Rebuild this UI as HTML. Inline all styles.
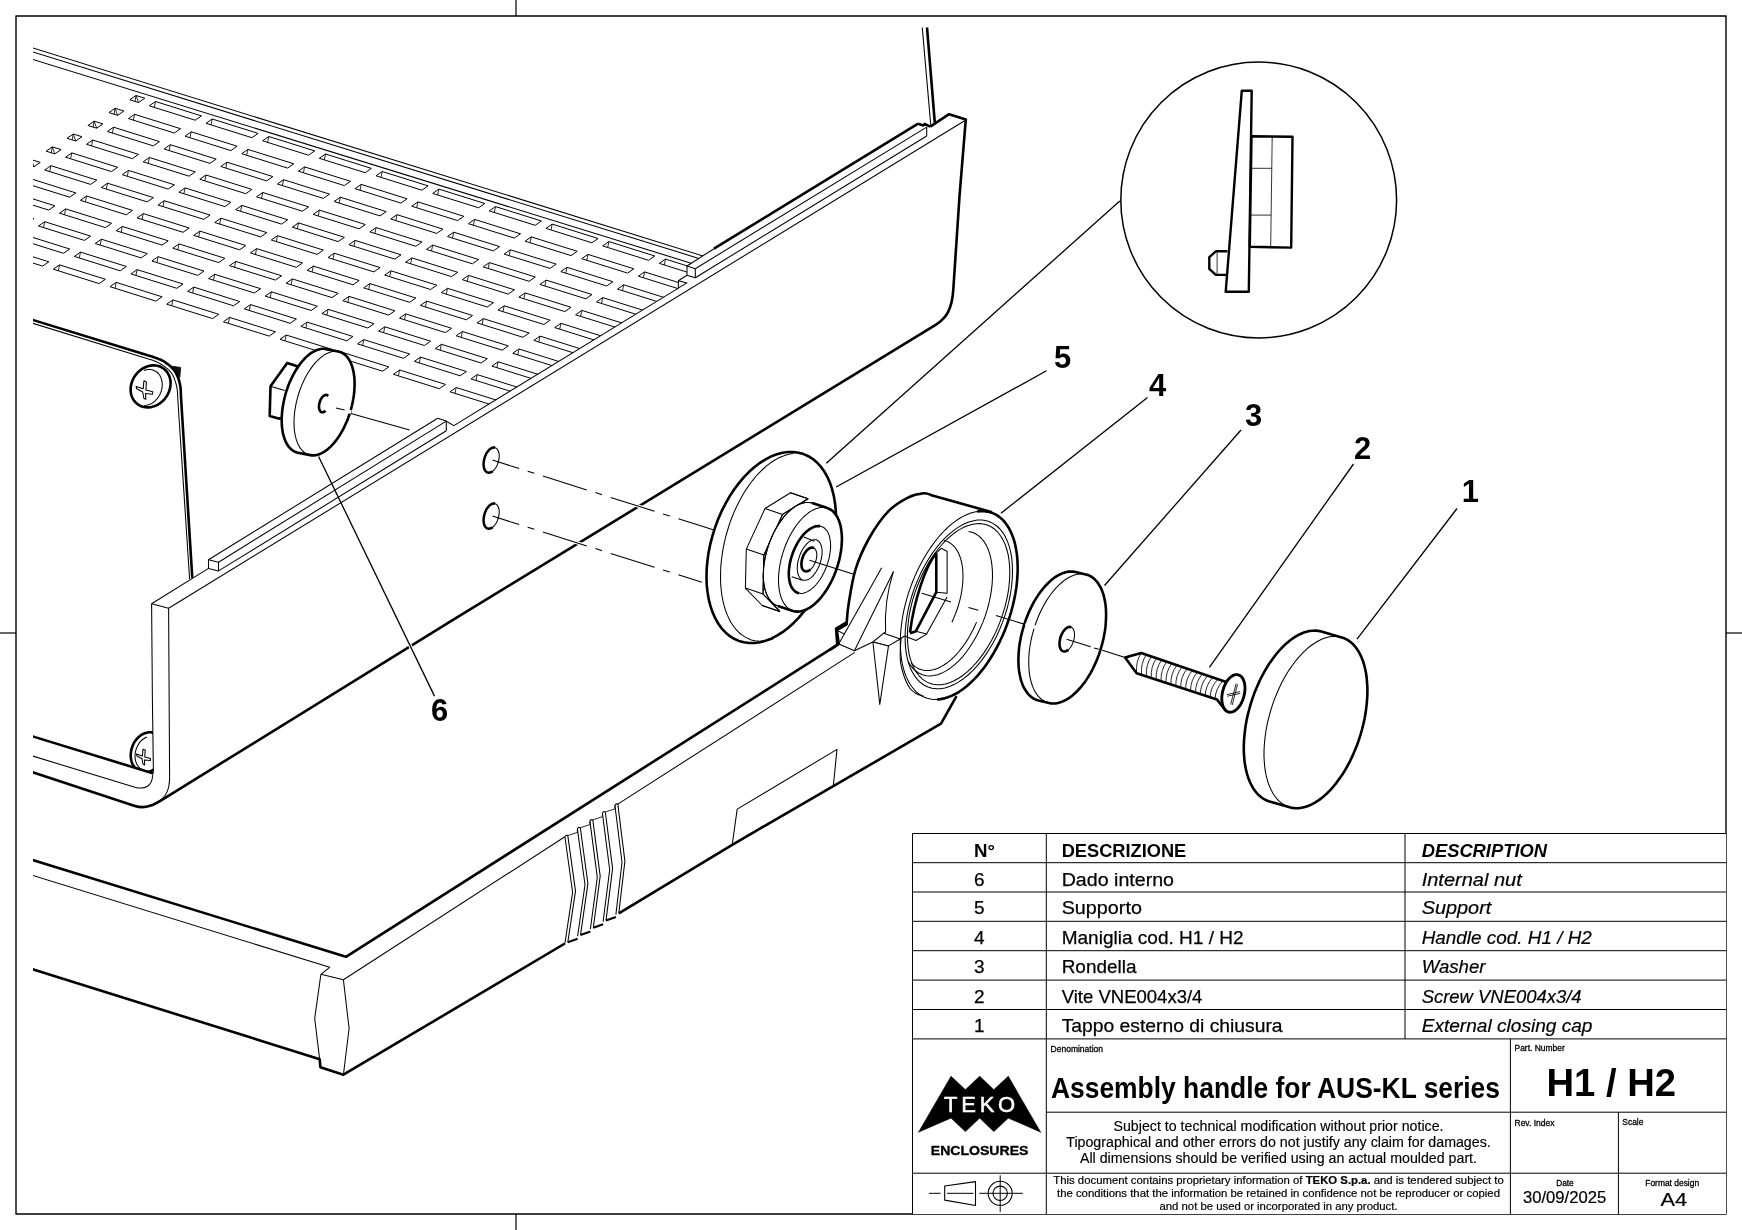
<!DOCTYPE html>
<html><head><meta charset="utf-8"><title>Assembly handle for AUS-KL series</title>
<style>
html,body{margin:0;padding:0;background:#fff;}
svg{display:block;font-family:"Liberation Sans",sans-serif;will-change:transform;filter:grayscale(1);}
</style></head><body>
<svg width="1742" height="1230" viewBox="0 0 1742 1230" fill="none" stroke="#000" stroke-linecap="butt" stroke-linejoin="round">
<rect x="0" y="0" width="1742" height="1230" fill="#fff" stroke="none"/>
<defs><clipPath id="dc"><rect x="33" y="27.5" width="1693" height="1186"/></clipPath></defs>
<g id="frame">
<rect x="16" y="16" width="1710" height="1198" stroke-width="1.4"/>
<polyline points="516,0 516,16" stroke-width="1.2" />
<polyline points="516,1214 516,1230" stroke-width="1.2" />
<polyline points="0,633 16,633" stroke-width="1.2" />
<polyline points="1726,633 1742,633" stroke-width="1.2" />
</g>
<g id="table">
<rect x="912.5" y="833.5" width="813.5" height="380.5" fill="#fff" stroke="none"/>
<polyline points="912.5,833.5 1726,833.5" stroke-width="1.0" />
<polyline points="912.5,862.7 1726,862.7" stroke-width="1.0" />
<polyline points="912.5,892 1726,892" stroke-width="1.0" />
<polyline points="912.5,921.3 1726,921.3" stroke-width="1.0" />
<polyline points="912.5,950.7 1726,950.7" stroke-width="1.0" />
<polyline points="912.5,980.1 1726,980.1" stroke-width="1.0" />
<polyline points="912.5,1009.5 1726,1009.5" stroke-width="1.0" />
<polyline points="912.5,1038.9 1726,1038.9" stroke-width="1.0" />
<polyline points="912.5,833.5 912.5,1214" stroke-width="1.0" />
<polyline points="1046.3,833.5 1046.3,1214" stroke-width="1.0" />
<polyline points="1405,833.5 1405,1038.9" stroke-width="1.0" />
<text x="974" y="857.2" font-size="19" font-weight="bold" font-style="normal" text-anchor="start" fill="#000" stroke="none" textLength="21" lengthAdjust="spacingAndGlyphs" >N°</text>
<text x="1061.7" y="857.2" font-size="19" font-weight="bold" font-style="normal" text-anchor="start" fill="#000" stroke="none" textLength="124.6" lengthAdjust="spacingAndGlyphs" >DESCRIZIONE</text>
<text x="1421.7" y="857.2" font-size="19" font-weight="bold" font-style="italic" text-anchor="start" fill="#000" stroke="none" textLength="125.3" lengthAdjust="spacingAndGlyphs" >DESCRIPTION</text>
<text x="979.2" y="885.6" font-size="19" font-weight="normal" font-style="normal" text-anchor="middle" fill="#000" stroke="#000" stroke-width="0.25" >6</text>
<text x="1061.7" y="885.6" font-size="19" font-weight="normal" font-style="normal" text-anchor="start" fill="#000" stroke="#000" stroke-width="0.25" textLength="112.3" lengthAdjust="spacingAndGlyphs" >Dado interno</text>
<text x="1421.7" y="885.6" font-size="19" font-weight="normal" font-style="italic" text-anchor="start" fill="#000" stroke="#000" stroke-width="0.2" textLength="100.1" lengthAdjust="spacingAndGlyphs" >Internal nut</text>
<text x="979.2" y="914.4" font-size="19" font-weight="normal" font-style="normal" text-anchor="middle" fill="#000" stroke="#000" stroke-width="0.25" >5</text>
<text x="1061.7" y="914.4" font-size="19" font-weight="normal" font-style="normal" text-anchor="start" fill="#000" stroke="#000" stroke-width="0.25" textLength="80.2" lengthAdjust="spacingAndGlyphs" >Supporto</text>
<text x="1421.7" y="914.4" font-size="19" font-weight="normal" font-style="italic" text-anchor="start" fill="#000" stroke="#000" stroke-width="0.2" textLength="69.6" lengthAdjust="spacingAndGlyphs" >Support</text>
<text x="979.2" y="943.7" font-size="19" font-weight="normal" font-style="normal" text-anchor="middle" fill="#000" stroke="#000" stroke-width="0.25" >4</text>
<text x="1061.7" y="943.7" font-size="19" font-weight="normal" font-style="normal" text-anchor="start" fill="#000" stroke="#000" stroke-width="0.25" textLength="181.9" lengthAdjust="spacingAndGlyphs" >Maniglia cod. H1 / H2</text>
<text x="1421.7" y="943.7" font-size="19" font-weight="normal" font-style="italic" text-anchor="start" fill="#000" stroke="#000" stroke-width="0.2" textLength="170.1" lengthAdjust="spacingAndGlyphs" >Handle cod. H1 / H2</text>
<text x="979.2" y="973" font-size="19" font-weight="normal" font-style="normal" text-anchor="middle" fill="#000" stroke="#000" stroke-width="0.25" >3</text>
<text x="1061.7" y="973" font-size="19" font-weight="normal" font-style="normal" text-anchor="start" fill="#000" stroke="#000" stroke-width="0.25" textLength="74.8" lengthAdjust="spacingAndGlyphs" >Rondella</text>
<text x="1421.7" y="973" font-size="19" font-weight="normal" font-style="italic" text-anchor="start" fill="#000" stroke="#000" stroke-width="0.2" textLength="63.8" lengthAdjust="spacingAndGlyphs" >Washer</text>
<text x="979.2" y="1002.5" font-size="19" font-weight="normal" font-style="normal" text-anchor="middle" fill="#000" stroke="#000" stroke-width="0.25" >2</text>
<text x="1061.7" y="1002.5" font-size="19" font-weight="normal" font-style="normal" text-anchor="start" fill="#000" stroke="#000" stroke-width="0.25" textLength="140.7" lengthAdjust="spacingAndGlyphs" >Vite VNE004x3/4</text>
<text x="1421.7" y="1002.5" font-size="19" font-weight="normal" font-style="italic" text-anchor="start" fill="#000" stroke="#000" stroke-width="0.2" textLength="159.9" lengthAdjust="spacingAndGlyphs" >Screw VNE004x3/4</text>
<text x="979.2" y="1031.6" font-size="19" font-weight="normal" font-style="normal" text-anchor="middle" fill="#000" stroke="#000" stroke-width="0.25" >1</text>
<text x="1061.7" y="1031.6" font-size="19" font-weight="normal" font-style="normal" text-anchor="start" fill="#000" stroke="#000" stroke-width="0.25" textLength="220.9" lengthAdjust="spacingAndGlyphs" >Tappo esterno di chiusura</text>
<text x="1421.7" y="1031.6" font-size="19" font-weight="normal" font-style="italic" text-anchor="start" fill="#000" stroke="#000" stroke-width="0.2" textLength="170.8" lengthAdjust="spacingAndGlyphs" >External closing cap</text>
<polyline points="1046.3,1112.2 1726,1112.2" stroke-width="1.0" />
<polyline points="912.5,1173.2 1726,1173.2" stroke-width="1.0" />
<polyline points="1510.4,1038.9 1510.4,1214" stroke-width="1.0" />
<polyline points="1618.4,1112.2 1618.4,1214" stroke-width="1.0" />
<text x="1050.6" y="1051.6" font-size="8.6" font-weight="normal" font-style="normal" text-anchor="start" fill="#000" stroke="#000" stroke-width="0.3" textLength="52.4" lengthAdjust="spacingAndGlyphs" >Denomination</text>
<text x="1051" y="1097.9" font-size="29.3" font-weight="bold" font-style="normal" text-anchor="start" fill="#000" stroke="none" textLength="449" lengthAdjust="spacingAndGlyphs" >Assembly handle for AUS-KL series</text>
<text x="1514.5" y="1051.4" font-size="8.6" font-weight="normal" font-style="normal" text-anchor="start" fill="#000" stroke="#000" stroke-width="0.3" textLength="50.2" lengthAdjust="spacingAndGlyphs" >Part. Number</text>
<text x="1546.5" y="1095.9" font-size="39.5" font-weight="bold" font-style="normal" text-anchor="start" fill="#000" stroke="none" textLength="129.6" lengthAdjust="spacingAndGlyphs" >H1 / H2</text>
<text x="1514.5" y="1126.4" font-size="8.6" font-weight="normal" font-style="normal" text-anchor="start" fill="#000" stroke="#000" stroke-width="0.3" textLength="40" lengthAdjust="spacingAndGlyphs" >Rev. Index</text>
<text x="1622.3" y="1125" font-size="8.6" font-weight="normal" font-style="normal" text-anchor="start" fill="#000" stroke="#000" stroke-width="0.3" textLength="21.1" lengthAdjust="spacingAndGlyphs" >Scale</text>
<text x="1564.9" y="1185.5" font-size="8.6" font-weight="normal" font-style="normal" text-anchor="middle" fill="#000" stroke="#000" stroke-width="0.3" textLength="17.4" lengthAdjust="spacingAndGlyphs" >Date</text>
<text x="1564.6" y="1203.4" font-size="15.8" font-weight="normal" font-style="normal" text-anchor="middle" fill="#000" stroke="#000" stroke-width="0.2" textLength="83.3" lengthAdjust="spacingAndGlyphs" >30/09/2025</text>
<text x="1672.2" y="1185.5" font-size="8.6" font-weight="normal" font-style="normal" text-anchor="middle" fill="#000" stroke="#000" stroke-width="0.3" textLength="53.8" lengthAdjust="spacingAndGlyphs" >Format design</text>
<text x="1673.7" y="1206.4" font-size="19" font-weight="normal" font-style="normal" text-anchor="middle" fill="#000" stroke="#000" stroke-width="0.2" textLength="26.6" lengthAdjust="spacingAndGlyphs" >A4</text>
<text x="1278.5" y="1130.7" font-size="13.8" font-weight="normal" font-style="normal" text-anchor="middle" fill="#000" stroke="#000" stroke-width="0.15" textLength="330" lengthAdjust="spacingAndGlyphs" >Subject to technical modification without prior notice.</text>
<text x="1278.5" y="1146.8" font-size="13.8" font-weight="normal" font-style="normal" text-anchor="middle" fill="#000" stroke="#000" stroke-width="0.15" textLength="424.5" lengthAdjust="spacingAndGlyphs" >Tipographical and other errors do not justify any claim for damages.</text>
<text x="1278.5" y="1162.8" font-size="13.8" font-weight="normal" font-style="normal" text-anchor="middle" fill="#000" stroke="#000" stroke-width="0.15" textLength="397" lengthAdjust="spacingAndGlyphs" >All dimensions should be verified using an actual moulded part.</text>
<text x="1278.5" y="1184.3" font-size="11.2" text-anchor="middle" fill="#000" stroke="#000" stroke-width="0.2" textLength="450.5" lengthAdjust="spacingAndGlyphs">This document contains proprietary information of <tspan font-weight="bold">TEKO S.p.a.</tspan> and is tendered subject to</text>
<text x="1278.5" y="1197.1" font-size="11.2" font-weight="normal" font-style="normal" text-anchor="middle" fill="#000" stroke="#000" stroke-width="0.2" textLength="443" lengthAdjust="spacingAndGlyphs" >the conditions that the information be retained in confidence not be reproducer or copied</text>
<text x="1278.5" y="1209.8" font-size="11.2" font-weight="normal" font-style="normal" text-anchor="middle" fill="#000" stroke="#000" stroke-width="0.2" textLength="238" lengthAdjust="spacingAndGlyphs" >and not be used or incorporated in any product.</text>
<polygon points="918.2,1132.5 951,1076.1 965.4,1089.6 979.7,1076.1 993.8,1089.6 1008.3,1076.1 1041,1132.5 1008.3,1118.2 993.8,1131.8 979.7,1118.2 965.4,1131.8 951,1118.2" stroke-width="0.3" fill="#000" />
<text x="944" y="1111.7" font-size="22" fill="#fff" stroke="#fff" stroke-width="0.5" textLength="71.2" lengthAdjust="spacing">TEKO</text>
<text x="979.6" y="1154.8" font-size="13.5" font-weight="bold" font-style="normal" text-anchor="middle" fill="#000" stroke="#000" stroke-width="0.35" textLength="97.6" lengthAdjust="spacingAndGlyphs" >ENCLOSURES</text>
<polyline points="928.9,1193.3 940.5,1193.3" stroke-width="1.0" />
<polyline points="947,1193.3 973.5,1193.3" stroke-width="1.0" />
<polyline points="979.3,1193.3 1022.8,1193.3" stroke-width="1.0" />
<polygon points="944.7,1186 975.5,1181.6 975.5,1205.5 944.7,1200.1" stroke-width="1.1" fill="none" />
<circle cx="1000.2" cy="1193.3" r="12" stroke-width="1.1"/><circle cx="1000.2" cy="1193.3" r="7.2" stroke-width="1.1"/>
<polyline points="1000.2,1175.3 1000.2,1211.8" stroke-width="1.0" />
</g>
<g id="drawing" clip-path="url(#dc)">
<polyline points="20,44 702.9,255.9" stroke-width="1.05" />
<polyline points="20,48 698.8,258.4" stroke-width="1.05" />
<polyline points="20,55.5 691.2,263.2" stroke-width="1.05" />
<polygon points="149.3,105.8 155.5,101.5 201.4,115.9 195.2,120.2" stroke-width="1.0" fill="none" />
<polyline points="155.5,101.5 154.3,107.4" stroke-width="0.85" />
<polygon points="206,123.3 212.2,119 258.1,133.4 251.9,137.7" stroke-width="1.0" fill="none" />
<polyline points="212.2,119 211,124.9" stroke-width="0.85" />
<polygon points="262.6,140.8 268.8,136.5 314.7,150.9 308.5,155.2" stroke-width="1.0" fill="none" />
<polyline points="268.8,136.5 267.6,142.4" stroke-width="0.85" />
<polygon points="319.3,158.3 325.5,154 371.4,168.4 365.2,172.7" stroke-width="1.0" fill="none" />
<polyline points="325.5,154 324.3,159.9" stroke-width="0.85" />
<polygon points="376,175.8 382.2,171.5 428.1,185.9 421.9,190.2" stroke-width="1.0" fill="none" />
<polyline points="382.2,171.5 381,177.4" stroke-width="0.85" />
<polygon points="432.7,193.4 438.9,189.1 484.8,203.5 478.6,207.8" stroke-width="1.0" fill="none" />
<polyline points="438.9,189.1 437.7,194.9" stroke-width="0.85" />
<polygon points="489.3,210.9 495.5,206.6 541.4,221 535.2,225.3" stroke-width="1.0" fill="none" />
<polyline points="495.5,206.6 494.3,212.4" stroke-width="0.85" />
<polygon points="546,228.4 552.2,224.1 598.1,238.5 591.9,242.8" stroke-width="1.0" fill="none" />
<polyline points="552.2,224.1 551,229.9" stroke-width="0.85" />
<polygon points="602.7,245.9 608.9,241.6 654.8,256 648.6,260.3" stroke-width="1.0" fill="none" />
<polyline points="608.9,241.6 607.7,247.4" stroke-width="0.85" />
<polygon points="659.3,263.4 665.5,259.1 711.4,273.5 705.2,277.8" stroke-width="1.0" fill="none" />
<polyline points="665.5,259.1 664.3,265" stroke-width="0.85" />
<polygon points="129.8,99.8 136,95.5 144.8,98.2 138.6,102.5" stroke-width="1.0" fill="none" />
<polyline points="136,95.5 135,101.4" stroke-width="0.85" />
<polyline points="136,95.5 138.6,102.5" stroke-width="0.85" />
<polygon points="128.4,118.6 134.6,114.3 180.5,128.7 174.3,133" stroke-width="1.0" fill="none" />
<polyline points="134.6,114.3 133.4,120.2" stroke-width="0.85" />
<polygon points="185,136.2 191.2,131.8 237.1,146.2 230.9,150.6" stroke-width="1.0" fill="none" />
<polyline points="191.2,131.8 190,137.7" stroke-width="0.85" />
<polygon points="241.7,153.7 247.9,149.4 293.8,163.8 287.6,168.1" stroke-width="1.0" fill="none" />
<polyline points="247.9,149.4 246.7,155.2" stroke-width="0.85" />
<polygon points="298.4,171.2 304.6,166.9 350.5,181.3 344.3,185.6" stroke-width="1.0" fill="none" />
<polyline points="304.6,166.9 303.4,172.7" stroke-width="0.85" />
<polygon points="355.1,188.7 361.2,184.4 407.1,198.8 400.9,203.1" stroke-width="1.0" fill="none" />
<polyline points="361.2,184.4 360.1,190.2" stroke-width="0.85" />
<polygon points="411.7,206.2 417.9,201.9 463.8,216.3 457.6,220.6" stroke-width="1.0" fill="none" />
<polyline points="417.9,201.9 416.7,207.8" stroke-width="0.85" />
<polygon points="468.4,223.7 474.6,219.4 520.5,233.8 514.3,238.1" stroke-width="1.0" fill="none" />
<polyline points="474.6,219.4 473.4,225.3" stroke-width="0.85" />
<polygon points="525.1,241.2 531.3,236.9 577.2,251.3 571,255.6" stroke-width="1.0" fill="none" />
<polyline points="531.3,236.9 530.1,242.8" stroke-width="0.85" />
<polygon points="581.7,258.7 587.9,254.4 633.8,268.8 627.6,273.1" stroke-width="1.0" fill="none" />
<polyline points="587.9,254.4 586.7,260.3" stroke-width="0.85" />
<polygon points="638.4,276.2 644.6,271.9 690.5,286.3 684.3,290.6" stroke-width="1.0" fill="none" />
<polyline points="644.6,271.9 643.4,277.8" stroke-width="0.85" />
<polygon points="108.9,112.6 115.1,108.3 123.9,111 117.7,115.3" stroke-width="1.0" fill="none" />
<polyline points="115.1,108.3 114.1,114.3" stroke-width="0.85" />
<polyline points="115.1,108.3 117.7,115.3" stroke-width="0.85" />
<polygon points="107.4,131.5 113.6,127.2 159.5,141.6 153.3,145.9" stroke-width="1.0" fill="none" />
<polyline points="113.6,127.2 112.4,133" stroke-width="0.85" />
<polygon points="164.1,149 170.3,144.7 216.2,159.1 210,163.4" stroke-width="1.0" fill="none" />
<polyline points="170.3,144.7 169.1,150.6" stroke-width="0.85" />
<polygon points="220.8,166.5 227,162.2 272.9,176.6 266.7,180.9" stroke-width="1.0" fill="none" />
<polyline points="227,162.2 225.8,168.1" stroke-width="0.85" />
<polygon points="277.4,184 283.6,179.7 329.5,194.1 323.3,198.4" stroke-width="1.0" fill="none" />
<polyline points="283.6,179.7 282.4,185.6" stroke-width="0.85" />
<polygon points="334.1,201.5 340.3,197.2 386.2,211.6 380,215.9" stroke-width="1.0" fill="none" />
<polyline points="340.3,197.2 339.1,203.1" stroke-width="0.85" />
<polygon points="390.8,219 397,214.7 442.9,229.1 436.7,233.4" stroke-width="1.0" fill="none" />
<polyline points="397,214.7 395.8,220.6" stroke-width="0.85" />
<polygon points="447.5,236.5 453.7,232.2 499.6,246.6 493.4,250.9" stroke-width="1.0" fill="none" />
<polyline points="453.7,232.2 452.5,238.1" stroke-width="0.85" />
<polygon points="504.1,254.1 510.3,249.8 556.2,264.1 550,268.4" stroke-width="1.0" fill="none" />
<polyline points="510.3,249.8 509.1,255.6" stroke-width="0.85" />
<polygon points="560.8,271.6 567,267.3 612.9,281.7 606.7,286" stroke-width="1.0" fill="none" />
<polyline points="567,267.3 565.8,273.1" stroke-width="0.85" />
<polygon points="617.5,289.1 623.7,284.8 669.6,299.2 663.4,303.5" stroke-width="1.0" fill="none" />
<polyline points="623.7,284.8 622.5,290.6" stroke-width="0.85" />
<polygon points="87.9,125.5 94.1,121.2 102.9,123.9 96.7,128.2" stroke-width="1.0" fill="none" />
<polyline points="94.1,121.2 93.1,127.1" stroke-width="0.85" />
<polyline points="94.1,121.2 96.7,128.2" stroke-width="0.85" />
<polygon points="86.5,144.3 92.7,140 138.6,154.4 132.4,158.7" stroke-width="1.0" fill="none" />
<polyline points="92.7,140 91.5,145.9" stroke-width="0.85" />
<polygon points="143.2,161.8 149.4,157.5 195.3,171.9 189.1,176.2" stroke-width="1.0" fill="none" />
<polyline points="149.4,157.5 148.2,163.4" stroke-width="0.85" />
<polygon points="199.8,179.3 206,175 251.9,189.4 245.8,193.7" stroke-width="1.0" fill="none" />
<polyline points="206,175 204.8,180.9" stroke-width="0.85" />
<polygon points="256.5,196.8 262.7,192.5 308.6,206.9 302.4,211.2" stroke-width="1.0" fill="none" />
<polyline points="262.7,192.5 261.5,198.4" stroke-width="0.85" />
<polygon points="313.2,214.4 319.4,210.1 365.3,224.5 359.1,228.8" stroke-width="1.0" fill="none" />
<polyline points="319.4,210.1 318.2,215.9" stroke-width="0.85" />
<polygon points="369.9,231.9 376.1,227.6 422,242 415.8,246.3" stroke-width="1.0" fill="none" />
<polyline points="376.1,227.6 374.9,233.4" stroke-width="0.85" />
<polygon points="426.5,249.4 432.7,245.1 478.6,259.5 472.4,263.8" stroke-width="1.0" fill="none" />
<polyline points="432.7,245.1 431.5,250.9" stroke-width="0.85" />
<polygon points="483.2,266.9 489.4,262.6 535.3,277 529.1,281.3" stroke-width="1.0" fill="none" />
<polyline points="489.4,262.6 488.2,268.5" stroke-width="0.85" />
<polygon points="539.9,284.4 546.1,280.1 592,294.5 585.8,298.8" stroke-width="1.0" fill="none" />
<polyline points="546.1,280.1 544.9,286" stroke-width="0.85" />
<polygon points="596.5,301.9 602.7,297.6 648.6,312 642.4,316.3" stroke-width="1.0" fill="none" />
<polyline points="602.7,297.6 601.5,303.5" stroke-width="0.85" />
<polygon points="67,138.3 73.2,134 82,136.7 75.8,141" stroke-width="1.0" fill="none" />
<polyline points="73.2,134 72.2,139.9" stroke-width="0.85" />
<polyline points="73.2,134 75.8,141" stroke-width="0.85" />
<polygon points="65.6,157.2 71.8,152.9 117.7,167.3 111.5,171.6" stroke-width="1.0" fill="none" />
<polyline points="71.8,152.9 70.6,158.7" stroke-width="0.85" />
<polygon points="122.3,174.7 128.5,170.4 174.4,184.8 168.2,189.1" stroke-width="1.0" fill="none" />
<polyline points="128.5,170.4 127.3,176.2" stroke-width="0.85" />
<polygon points="178.9,192.2 185.1,187.9 231,202.3 224.8,206.6" stroke-width="1.0" fill="none" />
<polyline points="185.1,187.9 183.9,193.7" stroke-width="0.85" />
<polygon points="235.6,209.7 241.8,205.4 287.7,219.8 281.5,224.1" stroke-width="1.0" fill="none" />
<polyline points="241.8,205.4 240.6,211.3" stroke-width="0.85" />
<polygon points="292.3,227.2 298.5,222.9 344.4,237.3 338.2,241.6" stroke-width="1.0" fill="none" />
<polyline points="298.5,222.9 297.3,228.8" stroke-width="0.85" />
<polygon points="348.9,244.7 355.1,240.4 401,254.8 394.8,259.1" stroke-width="1.0" fill="none" />
<polyline points="355.1,240.4 353.9,246.3" stroke-width="0.85" />
<polygon points="405.6,262.2 411.8,257.9 457.7,272.3 451.5,276.6" stroke-width="1.0" fill="none" />
<polyline points="411.8,257.9 410.6,263.8" stroke-width="0.85" />
<polygon points="462.3,279.7 468.5,275.4 514.4,289.8 508.2,294.1" stroke-width="1.0" fill="none" />
<polyline points="468.5,275.4 467.3,281.3" stroke-width="0.85" />
<polygon points="518.9,297.2 525.1,292.9 571,307.3 564.8,311.6" stroke-width="1.0" fill="none" />
<polyline points="525.1,292.9 523.9,298.8" stroke-width="0.85" />
<polygon points="575.6,314.8 581.8,310.4 627.7,324.8 621.5,329.1" stroke-width="1.0" fill="none" />
<polyline points="581.8,310.4 580.6,316.3" stroke-width="0.85" />
<polygon points="46.1,151.2 52.3,146.9 61.1,149.6 54.9,153.9" stroke-width="1.0" fill="none" />
<polyline points="52.3,146.9 51.3,152.8" stroke-width="0.85" />
<polyline points="52.3,146.9 54.9,153.9" stroke-width="0.85" />
<polygon points="44.7,170 50.9,165.7 96.8,180.1 90.6,184.4" stroke-width="1.0" fill="none" />
<polyline points="50.9,165.7 49.7,171.6" stroke-width="0.85" />
<polygon points="101.3,187.5 107.5,183.2 153.4,197.6 147.2,201.9" stroke-width="1.0" fill="none" />
<polyline points="107.5,183.2 106.3,189.1" stroke-width="0.85" />
<polygon points="158,205 164.2,200.7 210.1,215.1 203.9,219.4" stroke-width="1.0" fill="none" />
<polyline points="164.2,200.7 163,206.6" stroke-width="0.85" />
<polygon points="214.7,222.5 220.9,218.2 266.8,232.6 260.6,236.9" stroke-width="1.0" fill="none" />
<polyline points="220.9,218.2 219.7,224.1" stroke-width="0.85" />
<polygon points="271.3,240 277.5,235.7 323.4,250.1 317.2,254.4" stroke-width="1.0" fill="none" />
<polyline points="277.5,235.7 276.3,241.6" stroke-width="0.85" />
<polygon points="328,257.6 334.2,253.2 380.1,267.6 373.9,271.9" stroke-width="1.0" fill="none" />
<polyline points="334.2,253.2 333,259.1" stroke-width="0.85" />
<polygon points="384.7,275.1 390.9,270.8 436.8,285.2 430.6,289.5" stroke-width="1.0" fill="none" />
<polyline points="390.9,270.8 389.7,276.6" stroke-width="0.85" />
<polygon points="441.3,292.6 447.5,288.3 493.4,302.7 487.2,307" stroke-width="1.0" fill="none" />
<polyline points="447.5,288.3 446.3,294.1" stroke-width="0.85" />
<polygon points="498,310.1 504.2,305.8 550.1,320.2 543.9,324.5" stroke-width="1.0" fill="none" />
<polyline points="504.2,305.8 503,311.6" stroke-width="0.85" />
<polygon points="554.7,327.6 560.9,323.3 606.8,337.7 600.6,342" stroke-width="1.0" fill="none" />
<polyline points="560.9,323.3 559.7,329.2" stroke-width="0.85" />
<polygon points="25.2,164 31.4,159.7 40.2,162.4 34,166.7" stroke-width="1.0" fill="none" />
<polyline points="31.4,159.7 30.4,165.6" stroke-width="0.85" />
<polyline points="31.4,159.7 34,166.7" stroke-width="0.85" />
<polygon points="23.7,182.8 29.9,178.5 75.8,192.9 69.6,197.2" stroke-width="1.0" fill="none" />
<polyline points="29.9,178.5 28.7,184.4" stroke-width="0.85" />
<polygon points="80.4,200.3 86.6,196 132.5,210.4 126.3,214.8" stroke-width="1.0" fill="none" />
<polyline points="86.6,196 85.4,201.9" stroke-width="0.85" />
<polygon points="137.1,217.9 143.3,213.6 189.2,228 183,232.3" stroke-width="1.0" fill="none" />
<polyline points="143.3,213.6 142.1,219.4" stroke-width="0.85" />
<polygon points="193.7,235.4 199.9,231.1 245.8,245.5 239.6,249.8" stroke-width="1.0" fill="none" />
<polyline points="199.9,231.1 198.7,236.9" stroke-width="0.85" />
<polygon points="250.4,252.9 256.6,248.6 302.5,263 296.3,267.3" stroke-width="1.0" fill="none" />
<polyline points="256.6,248.6 255.4,254.4" stroke-width="0.85" />
<polygon points="307.1,270.4 313.3,266.1 359.2,280.5 353,284.8" stroke-width="1.0" fill="none" />
<polyline points="313.3,266.1 312.1,272" stroke-width="0.85" />
<polygon points="363.7,287.9 369.9,283.6 415.8,298 409.6,302.3" stroke-width="1.0" fill="none" />
<polyline points="369.9,283.6 368.7,289.5" stroke-width="0.85" />
<polygon points="420.4,305.4 426.6,301.1 472.5,315.5 466.3,319.8" stroke-width="1.0" fill="none" />
<polyline points="426.6,301.1 425.4,307" stroke-width="0.85" />
<polygon points="477.1,322.9 483.3,318.6 529.2,333 523,337.3" stroke-width="1.0" fill="none" />
<polyline points="483.3,318.6 482.1,324.5" stroke-width="0.85" />
<polygon points="533.8,340.4 540,336.1 585.9,350.5 579.6,354.8" stroke-width="1.0" fill="none" />
<polyline points="540,336.1 538.8,342" stroke-width="0.85" />
<polygon points="4.2,176.8 10.4,172.5 19.2,175.2 13,179.5" stroke-width="1.0" fill="none" />
<polyline points="10.4,172.5 9.4,178.5" stroke-width="0.85" />
<polyline points="10.4,172.5 13,179.5" stroke-width="0.85" />
<polygon points="2.8,195.7 9,191.4 54.9,205.8 48.7,210.1" stroke-width="1.0" fill="none" />
<polyline points="9,191.4 7.8,197.2" stroke-width="0.85" />
<polygon points="59.5,213.2 65.7,208.9 111.6,223.3 105.4,227.6" stroke-width="1.0" fill="none" />
<polyline points="65.7,208.9 64.5,214.8" stroke-width="0.85" />
<polygon points="116.1,230.7 122.3,226.4 168.2,240.8 162,245.1" stroke-width="1.0" fill="none" />
<polyline points="122.3,226.4 121.1,232.3" stroke-width="0.85" />
<polygon points="172.8,248.2 179,243.9 224.9,258.3 218.7,262.6" stroke-width="1.0" fill="none" />
<polyline points="179,243.9 177.8,249.8" stroke-width="0.85" />
<polygon points="229.5,265.7 235.7,261.4 281.6,275.8 275.4,280.1" stroke-width="1.0" fill="none" />
<polyline points="235.7,261.4 234.5,267.3" stroke-width="0.85" />
<polygon points="286.1,283.2 292.3,278.9 338.2,293.3 332,297.6" stroke-width="1.0" fill="none" />
<polyline points="292.3,278.9 291.1,284.8" stroke-width="0.85" />
<polygon points="342.8,300.7 349,296.4 394.9,310.8 388.7,315.1" stroke-width="1.0" fill="none" />
<polyline points="349,296.4 347.8,302.3" stroke-width="0.85" />
<polygon points="399.5,318.2 405.7,313.9 451.6,328.3 445.4,332.6" stroke-width="1.0" fill="none" />
<polyline points="405.7,313.9 404.5,319.8" stroke-width="0.85" />
<polygon points="456.2,335.8 462.4,331.5 508.3,345.9 502.1,350.2" stroke-width="1.0" fill="none" />
<polyline points="462.4,331.5 461.2,337.3" stroke-width="0.85" />
<polygon points="512.8,353.3 519,349 564.9,363.4 558.7,367.7" stroke-width="1.0" fill="none" />
<polyline points="519,349 517.8,354.8" stroke-width="0.85" />
<polygon points="-18.1,208.5 -11.9,204.2 34,218.6 27.8,222.9" stroke-width="1.0" fill="none" />
<polyline points="-11.9,204.2 -13.1,210.1" stroke-width="0.85" />
<polygon points="38.5,226 44.7,221.7 90.6,236.1 84.4,240.4" stroke-width="1.0" fill="none" />
<polyline points="44.7,221.7 43.5,227.6" stroke-width="0.85" />
<polygon points="95.2,243.5 101.4,239.2 147.3,253.6 141.1,257.9" stroke-width="1.0" fill="none" />
<polyline points="101.4,239.2 100.2,245.1" stroke-width="0.85" />
<polygon points="151.9,261 158.1,256.7 204,271.1 197.8,275.4" stroke-width="1.0" fill="none" />
<polyline points="158.1,256.7 156.9,262.6" stroke-width="0.85" />
<polygon points="208.5,278.6 214.7,274.3 260.6,288.7 254.4,293" stroke-width="1.0" fill="none" />
<polyline points="214.7,274.3 213.5,280.1" stroke-width="0.85" />
<polygon points="265.2,296.1 271.4,291.8 317.3,306.2 311.1,310.5" stroke-width="1.0" fill="none" />
<polyline points="271.4,291.8 270.2,297.6" stroke-width="0.85" />
<polygon points="321.9,313.6 328.1,309.3 374,323.7 367.8,328" stroke-width="1.0" fill="none" />
<polyline points="328.1,309.3 326.9,315.1" stroke-width="0.85" />
<polygon points="378.6,331.1 384.8,326.8 430.6,341.2 424.4,345.5" stroke-width="1.0" fill="none" />
<polyline points="384.8,326.8 383.6,332.7" stroke-width="0.85" />
<polygon points="435.2,348.6 441.4,344.3 487.3,358.7 481.1,363" stroke-width="1.0" fill="none" />
<polyline points="441.4,344.3 440.2,350.2" stroke-width="0.85" />
<polygon points="491.9,366.1 498.1,361.8 544,376.2 537.8,380.5" stroke-width="1.0" fill="none" />
<polyline points="498.1,361.8 496.9,367.7" stroke-width="0.85" />
<polygon points="-39.1,221.4 -32.9,217.1 13,231.5 6.8,235.8" stroke-width="1.0" fill="none" />
<polyline points="-32.9,217.1 -34.1,222.9" stroke-width="0.85" />
<polygon points="17.6,238.9 23.8,234.6 69.7,249 63.5,253.3" stroke-width="1.0" fill="none" />
<polyline points="23.8,234.6 22.6,240.4" stroke-width="0.85" />
<polygon points="74.3,256.4 80.5,252.1 126.4,266.5 120.2,270.8" stroke-width="1.0" fill="none" />
<polyline points="80.5,252.1 79.3,257.9" stroke-width="0.85" />
<polygon points="130.9,273.9 137.1,269.6 183,284 176.8,288.3" stroke-width="1.0" fill="none" />
<polyline points="137.1,269.6 135.9,275.5" stroke-width="0.85" />
<polygon points="187.6,291.4 193.8,287.1 239.7,301.5 233.5,305.8" stroke-width="1.0" fill="none" />
<polyline points="193.8,287.1 192.6,293" stroke-width="0.85" />
<polygon points="244.3,308.9 250.5,304.6 296.4,319 290.2,323.3" stroke-width="1.0" fill="none" />
<polyline points="250.5,304.6 249.3,310.5" stroke-width="0.85" />
<polygon points="300.9,326.4 307.1,322.1 353,336.5 346.8,340.8" stroke-width="1.0" fill="none" />
<polyline points="307.1,322.1 305.9,328" stroke-width="0.85" />
<polygon points="357.6,343.9 363.8,339.6 409.7,354 403.5,358.3" stroke-width="1.0" fill="none" />
<polyline points="363.8,339.6 362.6,345.5" stroke-width="0.85" />
<polygon points="414.3,361.4 420.5,357.1 466.4,371.5 460.2,375.8" stroke-width="1.0" fill="none" />
<polyline points="420.5,357.1 419.3,363" stroke-width="0.85" />
<polygon points="471,378.9 477.2,374.6 523.1,389 516.9,393.3" stroke-width="1.0" fill="none" />
<polyline points="477.2,374.6 476,380.5" stroke-width="0.85" />
<polygon points="-60,234.2 -53.8,229.9 -7.9,244.3 -14.1,248.6" stroke-width="1.0" fill="none" />
<polyline points="-53.8,229.9 -55,235.8" stroke-width="0.85" />
<polygon points="-3.3,251.7 2.9,247.4 48.8,261.8 42.6,266.1" stroke-width="1.0" fill="none" />
<polyline points="2.9,247.4 1.7,253.3" stroke-width="0.85" />
<polygon points="53.3,269.2 59.5,264.9 105.4,279.3 99.2,283.6" stroke-width="1.0" fill="none" />
<polyline points="59.5,264.9 58.3,270.8" stroke-width="0.85" />
<polygon points="110,286.7 116.2,282.4 162.1,296.8 155.9,301.1" stroke-width="1.0" fill="none" />
<polyline points="116.2,282.4 115,288.3" stroke-width="0.85" />
<polygon points="166.7,304.2 172.9,299.9 218.8,314.3 212.6,318.6" stroke-width="1.0" fill="none" />
<polyline points="172.9,299.9 171.7,305.8" stroke-width="0.85" />
<polygon points="223.4,321.8 229.6,317.4 275.4,331.8 269.2,336.1" stroke-width="1.0" fill="none" />
<polyline points="229.6,317.4 228.4,323.3" stroke-width="0.85" />
<polygon points="280,339.3 286.2,335 332.1,349.4 325.9,353.7" stroke-width="1.0" fill="none" />
<polyline points="286.2,335 285,340.8" stroke-width="0.85" />
<polygon points="336.7,356.8 342.9,352.5 388.8,366.9 382.6,371.2" stroke-width="1.0" fill="none" />
<polyline points="342.9,352.5 341.7,358.3" stroke-width="0.85" />
<polygon points="393.4,374.3 399.6,370 445.5,384.4 439.3,388.7" stroke-width="1.0" fill="none" />
<polyline points="399.6,370 398.4,375.8" stroke-width="0.85" />
<polygon points="450,391.8 456.2,387.5 502.1,401.9 495.9,406.2" stroke-width="1.0" fill="none" />
<polyline points="456.2,387.5 455,393.4" stroke-width="0.85" />
<polygon points="170.6,383.2 170.5,385.1 170.3,386.9 169.9,388.7 169.4,390.5 168.7,392.3 167.9,394.1 167,395.7 165.9,397.3 164.7,398.9 163.5,400.3 162.1,401.6 160.6,402.8 159.1,403.9 157.4,404.8 155.8,405.6 154.1,406.3 152.3,406.8 150.6,407.2 148.9,407.4 147.1,407.4 145.4,407.3 143.8,407 142.1,406.5 140.6,406 139.1,405.2 137.7,404.3 136.5,403.3 135.3,402.2 134.2,400.9 133.3,399.5 132.5,398 131.8,396.5 131.3,394.8 130.9,393.1 130.7,391.3 130.6,389.5 130.7,387.7 130.9,385.9 131.3,384.1 131.8,382.3 132.5,380.5 133.3,378.7 134.2,377.1 135.3,375.5 136.5,373.9 137.7,372.5 139.1,371.2 140.6,370 142.1,368.9 143.8,368 145.4,367.2 147.1,366.5 148.9,366 150.6,365.6 152.3,365.4 154.1,365.4 155.8,365.5 157.4,365.8 159.1,366.3 160.6,366.8 162.1,367.6 163.5,368.5 164.7,369.5 165.9,370.6 167,371.9 167.9,373.3 168.7,374.8 169.4,376.3 169.9,378 170.3,379.7 170.5,381.5" stroke-width="2.6" fill="#fff" />
<polyline points="144.1,370.5 146.3,369.8 148.6,369.5 150.8,369.6 152.9,370 154.9,370.9 156.8,372 158.4,373.5 159.8,375.3 160.8,377.4 161.6,379.6 162.1,382.1 162.3,384.6 162.1,387.2 161.6,389.8 160.8,392.4 159.8,394.8 158.4,397.1 156.8,399.2 154.9,401.1 152.9,402.7 150.8,403.9 148.6,404.8 146.3,405.3 144.1,405.5" stroke-width="1.05" />
<polygon points="143.9,380.8 146.4,381.9 145.9,390.1 152.8,391.7 152.5,394.3 145.5,393.4 145.9,399.3 143.9,398.4 142.7,392 136.8,388.8 136.1,386.5 143.2,388.8" stroke-width="1.05" fill="none" />
<polygon points="20,316 146,354.8 146.7,355 147.6,355.3 148.7,355.6 150,355.9 151.3,356.3 152.6,356.7 153.9,357.2 155.1,357.6 156.2,358 157.4,358.4 158.5,358.9 159.7,359.3 160.8,359.8 162,360.4 163.1,361 164.3,361.7 165.5,362.5 166.7,363.4 168,364.3 169.2,365.3 170.4,366.4 171.5,367.4 172.6,368.5 173.5,369.5 174.3,370.5 175,371.5 175.7,372.5 176.2,373.6 176.7,374.6 177.2,375.6 177.7,376.7 178.1,377.8 178.5,378.9 178.9,380 179.2,381.1 179.5,382.3 179.8,383.5 180,384.6 180.2,385.8 180.4,387 180.6,388.3 180.7,389.7 180.8,391.1 180.8,392.6 180.9,393.9 180.9,395.2 181,396.2 181,397 192.3,578 189.6,579 177.8,399 177.8,398.3 177.7,397.3 177.7,396.1 177.6,394.9 177.5,393.5 177.5,392.2 177.3,390.9 177.2,389.7 177,388.6 176.9,387.6 176.7,386.5 176.4,385.5 176.2,384.5 175.9,383.4 175.6,382.4 175.3,381.4 174.9,380.4 174.6,379.3 174.2,378.3 173.8,377.2 173.3,376.2 172.8,375.2 172.2,374.2 171.6,373.2 170.9,372.3 170.1,371.3 169.2,370.4 168.3,369.6 167.3,368.7 166.3,367.9 165.3,367.1 164.3,366.3 163.2,365.6 162.1,364.8 161,364.2 159.8,363.5 158.6,362.9 157.4,362.3 156.3,361.7 155.1,361.2 153.9,360.7 152.6,360.2 151.3,359.8 150,359.4 148.7,359 147.6,358.7 146.7,358.4 146,358.2 20,319.4" stroke-width="0.01" fill="#fff" stroke="none"/>
<polyline points="20,316 146,354.8 146.7,355 147.6,355.3 148.7,355.6 150,355.9 151.3,356.3 152.6,356.7 153.9,357.2 155.1,357.6 156.2,358 157.4,358.4 158.5,358.9 159.7,359.3 160.8,359.8 162,360.4 163.1,361 164.3,361.7 165.5,362.5 166.7,363.4 168,364.3 169.2,365.3 170.4,366.4 171.5,367.4 172.6,368.5 173.5,369.5 174.3,370.5 175,371.5 175.7,372.5 176.2,373.6 176.7,374.6 177.2,375.6 177.7,376.7 178.1,377.8 178.5,378.9 178.9,380 179.2,381.1 179.5,382.3 179.8,383.5 180,384.6 180.2,385.8 180.4,387 180.6,388.3 180.7,389.7 180.8,391.1 180.8,392.6 180.9,393.9 180.9,395.2 181,396.2 181,397 192.3,578" stroke-width="2.6" />
<polyline points="20,319.4 146,358.2 146.7,358.4 147.6,358.7 148.7,359 150,359.4 151.3,359.8 152.6,360.2 153.9,360.7 155.1,361.2 156.3,361.7 157.4,362.3 158.6,362.9 159.8,363.5 161,364.2 162.1,364.8 163.2,365.6 164.3,366.3 165.3,367.1 166.3,367.9 167.3,368.7 168.3,369.6 169.2,370.4 170.1,371.3 170.9,372.3 171.6,373.2 172.2,374.2 172.8,375.2 173.3,376.2 173.8,377.2 174.2,378.3 174.6,379.3 174.9,380.4 175.3,381.4 175.6,382.4 175.9,383.4 176.2,384.5 176.4,385.5 176.7,386.5 176.9,387.6 177,388.6 177.2,389.7 177.3,390.9 177.5,392.2 177.5,393.5 177.6,394.9 177.7,396.1 177.7,397.3 177.8,398.3 177.8,399 189.6,579" stroke-width="1.05" />
<polygon points="170.5,366 180.7,367.5 179.8,377.5 176,371" stroke-width="0.8" fill="#111" />
<polygon points="164.1,749.3 164,751 163.8,752.8 163.5,754.5 163.1,756.2 162.5,757.9 161.9,759.6 161.1,761.2 160.2,762.7 159.2,764.2 158.1,765.5 157,766.8 155.8,767.9 154.5,769 153.1,769.9 151.7,770.6 150.3,771.3 148.9,771.7 147.4,772.1 145.9,772.3 144.5,772.3 143.1,772.2 141.7,771.9 140.3,771.5 139.1,770.9 137.8,770.2 136.7,769.4 135.6,768.4 134.6,767.3 133.7,766.1 132.9,764.8 132.3,763.4 131.7,761.9 131.3,760.3 131,758.7 130.8,757 130.7,755.3 130.8,753.6 131,751.8 131.3,750.1 131.7,748.4 132.3,746.7 132.9,745 133.7,743.4 134.6,741.9 135.6,740.4 136.7,739.1 137.8,737.8 139.1,736.7 140.3,735.6 141.7,734.7 143.1,734 144.5,733.3 145.9,732.9 147.4,732.5 148.9,732.3 150.3,732.3 151.7,732.4 153.1,732.7 154.5,733.1 155.8,733.7 157,734.4 158.1,735.2 159.2,736.2 160.2,737.3 161.1,738.5 161.9,739.8 162.5,741.2 163.1,742.7 163.5,744.3 163.8,745.9 164,747.6" stroke-width="2.6" fill="#fff" />
<polyline points="147,771 145.3,770.8 143.8,770.4 142.2,769.8 140.8,769 139.5,767.9 138.4,766.7 137.4,765.2 136.5,763.6 135.9,761.9 135.4,760.1 135.1,758.1 135,756.2 135.1,754.1 135.4,752.1 135.9,750.1 136.5,748.1 137.4,746.2 138.4,744.4 139.5,742.7 140.8,741.2 142.2,739.8 143.8,738.7 145.3,737.7 147,736.9" stroke-width="1.05" />
<polygon points="143,749.2 145.2,750.1 144.7,757.1 150.6,758.4 150.3,760.6 144.4,759.9 144.7,764.9 143,764.1 142,758.7 137,756 136.4,754 142.4,756" stroke-width="1.05" fill="none" />
<path d="M151.6,603.7 L208.5,568.4 L208.5,559.7 L437.7,418.2 L446.3,421.1 L453.9,425.6 L678.4,288.1 L678.4,280.8 L687,275.3 L687,266 L714,248.7 L918.1,123.7 L923.3,125.4 L924.7,124 L930.2,126.6 L949.1,114.2 L965.8,119.4 L959.6,194.8 L953.3,289.7 C952,310 946,318 936,324.6 L455,618.7 L166,797.3 C154,805 146,809.5 134.9,806 L20,768 L20,732.5 L153.6,773.5 L152.6,700 Z" stroke-width="0.01" fill="#fff" stroke="none"/>
<path d="M930.2,126.6 L949.1,114.2 L965.8,119.4 L959.6,194.8 L953.3,289.7 C952,310 946,318 936,324.6 L455,618.7 L166,797.3 C154,805 146,809.5 134.9,806 L20,768" stroke-width="2.6" fill="none" />
<polyline points="168.6,608.2 964.6,120.8" stroke-width="1.05" />
<polyline points="151.6,603.7 168.6,608.2" stroke-width="1.05" />
<path d="M151.6,603.7 L152.4,700 L153.4,772" stroke-width="1.05" fill="none" />
<path d="M168.6,608.2 L169.6,776 C169.8,790 166,797 158,802" stroke-width="1.05" fill="none" />
<polyline points="20,732.5 153.6,773.5" stroke-width="2.6" />
<path d="M20,752.2 L134.9,787.2 C145,790 152.4,786 152.6,775" stroke-width="1.05" fill="none" />
<polyline points="151.6,603.7 208.5,568.4" stroke-width="1.05" />
<polyline points="208.5,559.7 437.7,418.2" stroke-width="1.05" />
<polyline points="218.5,562.2 446.3,421.1" stroke-width="1.05" />
<polyline points="218.5,570.9 446.3,430.8" stroke-width="1.05" />
<polygon points="208.5,559.7 218.5,562.2 218.5,570.9 208.5,568.4" stroke-width="1.05" fill="none" />
<polyline points="437.7,418.2 446.3,421.1 446.3,430.8" stroke-width="1.05" />
<polyline points="446.3,421.3 453.9,425.6 678.4,288.1 678.4,280.8 687,275.3" stroke-width="1.05" />
<polyline points="678.4,280.8 687,282.9 677.7,288.4" stroke-width="1.05" />
<polyline points="687,266 714,248.7" stroke-width="1.05" />
<polyline points="714,248.7 918.1,123.7" stroke-width="2.6" />
<polyline points="918.1,123.7 923.3,125.4 924.7,124 930.2,126.6" stroke-width="2.6" />
<polyline points="695.3,268.7 926.7,127.1" stroke-width="1.05" />
<polyline points="695.3,277.7 926.7,136" stroke-width="1.05" />
<polyline points="926.7,127.1 926.7,136" stroke-width="1.05" />
<polygon points="687,266 695.3,268.7 695.3,277.7 687,275.3" stroke-width="1.05" fill="none" />
<polyline points="921.6,20 930.8,125.4" stroke-width="1.05" />
<polyline points="926.4,20 934.8,122.6" stroke-width="2.6" />
<polyline points="492.8,471.2 491.8,471.8 490.8,472.3 489.8,472.6 488.8,472.7 487.9,472.6 487,472.3 486.2,471.7 485.5,471 484.9,470.1 484.4,469.1 484,467.9 483.8,466.5 483.6,465.1 483.6,463.6 483.7,462 484,460.4 484.3,458.8 484.8,457.2 485.4,455.7 486,454.2 486.8,452.8 487.7,451.6 488.6,450.5 489.5,449.5 490.5,448.7 491.5,448.1 492.5,447.7 493.5,447.5 494.4,447.5 495.3,447.7" stroke-width="2.4699999999999998" />
<polyline points="495.3,447.7 496.1,448.1 496.8,448.7 497.5,449.5 498,450.4 498.5,451.4 498.8,452.6 499.1,453.9 499.2,455.2 499.2,456.7 499.1,458.2 498.9,459.7 498.5,461.3 498.1,462.8 497.5,464.3 496.9,465.7 496.2,467 495.4,468.3 494.6,469.4 493.7,470.3 492.8,471.2" stroke-width="1.05" />
<polyline points="492.8,527.2 491.8,527.8 490.8,528.3 489.8,528.6 488.8,528.7 487.9,528.6 487,528.3 486.2,527.7 485.5,527 484.9,526.1 484.4,525.1 484,523.9 483.8,522.5 483.6,521.1 483.6,519.6 483.7,518 484,516.4 484.3,514.8 484.8,513.2 485.4,511.7 486,510.2 486.8,508.8 487.7,507.6 488.6,506.5 489.5,505.5 490.5,504.7 491.5,504.1 492.5,503.7 493.5,503.5 494.4,503.5 495.3,503.7" stroke-width="2.4699999999999998" />
<polyline points="495.3,503.7 496.1,504.1 496.8,504.7 497.5,505.5 498,506.4 498.5,507.4 498.8,508.6 499.1,509.9 499.2,511.2 499.2,512.7 499.1,514.2 498.9,515.7 498.5,517.3 498.1,518.8 497.5,520.3 496.9,521.7 496.2,523 495.4,524.3 494.6,525.4 493.7,526.3 492.8,527.2" stroke-width="1.05" />
<g id="base">
<polyline points="20,856 345.9,956.8 837.3,644.9 836.1,628.7 846.6,622.4" stroke-width="2.6" />
<polyline points="20,871.4 329.6,967.3 320.9,974.3" stroke-width="1.05" />
<polyline points="320.9,974.3 343.4,979.8" stroke-width="1.05" />
<polyline points="343.4,979.8 564.9,836.8" stroke-width="1.05" />
<polyline points="617.8,804.1 854.8,652.4" stroke-width="1.05" />
<polyline points="564.9,943.5 572.6,892.3 564.9,836.8 566.1,835.2 567.8,835.6 575.5,891.1 567.8,942.3" stroke-width="1.05" />
<polyline points="567.8,835.6 577.4,832.4 577.4,828.9" stroke-width="0.8400000000000001" />
<polyline points="567.8,942.3 577.6,938.8" stroke-width="2.08" />
<polyline points="577.6,936.3 585,884.8 577.4,828.9 578.6,827.3 580.3,827.7 587.9,883.6 580.5,935.1" stroke-width="1.05" />
<polyline points="580.3,827.7 589.9,824.6 589.9,821.1" stroke-width="0.8400000000000001" />
<polyline points="580.5,935.1 590.4,931.5" stroke-width="2.08" />
<polyline points="590.4,929 597.3,877.3 589.9,821.1 591.1,819.5 592.8,819.9 600.2,876.1 593.3,927.8" stroke-width="1.05" />
<polyline points="592.8,819.9 602.4,816.7 602.4,813.2" stroke-width="0.8400000000000001" />
<polyline points="593.3,927.8 603.1,924.3" stroke-width="2.08" />
<polyline points="603.1,921.8 609.7,869.8 602.4,813.2 603.6,811.6 605.3,812 612.6,868.6 606,920.6" stroke-width="1.05" />
<polyline points="605.3,812 614.9,808.8 614.9,805.3" stroke-width="0.8400000000000001" />
<polyline points="606,920.6 615.9,917" stroke-width="2.08" />
<polyline points="615.9,914.5 622,862.3 614.9,805.3 616.1,803.7 617.8,804.1 624.9,861.1 618.8,913.3" stroke-width="1.05" />
<polyline points="320.9,974.3 314.7,1018.5 319.7,1059.7 320.4,1067.2" stroke-width="1.05" />
<polyline points="343.4,979.8 349.1,1028.5 343.4,1074.7" stroke-width="1.05" />
<polyline points="20,965.2 319.7,1059.2 320.4,1067.2 343.4,1074.7 564.9,943.5" stroke-width="2.6" />
<polyline points="618.8,913.3 732.2,844.8 833.3,786.2 941,723.6 956.5,696.1" stroke-width="2.6" />
<polyline points="732.2,844.8 737.2,809.1 837,749.4 833.3,786.2" stroke-width="1.05" />
</g>
<g id="nut6">
<polygon points="297.2,366.2 287.2,362.9 270.5,386.2 269.7,416.1 278.5,418.6 290,417 300,400" stroke-width="2.6" fill="#fff" />
<polyline points="270.5,386.2 284.7,390.4" stroke-width="1.05" />
<polygon points="338.3,351.5 339.9,351.9 341.5,352.5 343.1,353.4 344.5,354.4 345.9,355.6 347.2,357 348.4,358.6 349.5,360.4 350.5,362.3 351.4,364.4 352.2,366.7 352.9,369.1 353.5,371.6 353.9,374.3 354.3,377.1 354.5,380 354.6,382.9 354.6,386 354.4,389.1 354.2,392.3 353.8,395.5 353.3,398.7 352.7,402 352,405.3 351.2,408.5 350.3,411.8 349.2,415 348.1,418.2 346.9,421.3 345.5,424.3 344.1,427.3 342.7,430.1 341.1,432.9 339.5,435.5 337.8,438 336.1,440.4 334.3,442.6 332.5,444.7 330.7,446.6 328.8,448.3 326.9,449.9 325,451.3 323.1,452.4 321.2,453.4 319.3,454.2 317.4,454.8 315.6,455.2 313.8,455.4 312,455.4 310.3,455.1 298,452.7 296.4,452.3 294.8,451.7 293.2,450.8 291.8,449.8 290.4,448.6 289.1,447.2 287.9,445.6 286.8,443.8 285.8,441.9 284.9,439.8 284.1,437.5 283.4,435.1 282.8,432.6 282.4,429.9 282,427.1 281.8,424.2 281.7,421.3 281.7,418.2 281.9,415.1 282.1,411.9 282.5,408.7 283,405.5 283.6,402.2 284.3,398.9 285.1,395.7 286,392.4 287.1,389.2 288.2,386 289.4,382.9 290.8,379.9 292.2,376.9 293.6,374.1 295.2,371.3 296.8,368.7 298.5,366.2 300.2,363.8 302,361.6 303.8,359.5 305.6,357.6 307.5,355.9 309.4,354.3 311.3,352.9 313.2,351.8 315.1,350.8 317,350 318.9,349.4 320.7,349 322.5,348.8 324.3,348.8 326,349.1" stroke-width="2.6" fill="#fff" />
<polyline points="310.3,455.1 308.3,454.6 306.3,453.7 304.4,452.5 302.7,451 301.1,449.2 299.6,447.1 298.3,444.8 297.2,442.2 296.2,439.3 295.4,436.2 294.8,433 294.3,429.5 294.1,425.9 294,422.2 294.1,418.3 294.4,414.3 294.9,410.3 295.6,406.2 296.4,402.1 297.4,398.1 298.6,394 299.9,390 301.4,386.1 303.1,382.3 304.8,378.6 306.7,375.1 308.7,371.7 310.8,368.6 312.9,365.6 315.2,362.9 317.5,360.5 319.8,358.3 322.2,356.4 324.5,354.7 326.9,353.4 329.3,352.4 331.6,351.7 333.9,351.3 336.1,351.2 338.3,351.5" stroke-width="1.05" />
<polyline points="325.5,410.7 324.6,411.5 323.7,412 322.8,412.3 321.9,412.3 321.1,412 320.4,411.4 319.9,410.6 319.4,409.6 319.1,408.4 319,407 319,405.6 319.2,404 319.6,402.5 320.1,401 320.7,399.5 321.5,398.2 322.3,397.1 323.2,396.2 324.1,395.5 325,395.1 325.9,394.9 326.8,395 327.5,395.4 328.2,396" stroke-width="2.6" />
</g>
<g id="sup5">
<polygon points="836,518.5 835.8,526.5 835,534.7 833.8,543.1 832.1,551.4 829.9,559.7 827.3,567.9 824.3,576 820.9,583.8 817,591.4 812.9,598.6 808.4,605.5 803.6,611.9 798.6,617.8 793.4,623.2 788,628 782.5,632.2 776.9,635.7 771.2,638.6 765.6,640.8 760,642.2 754.5,643 749.1,643 743.9,642.3 738.9,640.9 734.1,638.8 729.6,635.9 725.5,632.4 721.6,628.3 718.2,623.5 715.2,618.2 712.6,612.3 710.4,605.9 708.7,599.1 707.5,591.9 706.7,584.3 706.5,576.5 706.7,568.5 707.5,560.3 708.7,551.9 710.4,543.6 712.6,535.3 715.2,527.1 718.2,519 721.6,511.2 725.5,503.6 729.6,496.4 734.1,489.5 738.9,483.1 743.9,477.2 749.1,471.8 754.5,467 760,462.8 765.6,459.3 771.2,456.4 776.9,454.2 782.5,452.8 788,452 793.4,452 798.6,452.7 803.6,454.1 808.4,456.2 812.9,459.1 817,462.6 820.9,466.7 824.3,471.5 827.3,476.8 829.9,482.7 832.1,489.1 833.8,495.9 835,503.1 835.8,510.7" stroke-width="2.6" fill="#fff" />
<polyline points="773.4,638.8 769.6,640 765.8,640.8 762.1,641.2 758.5,641.1 754.9,640.7 751.4,639.9 748.1,638.6 744.9,636.9 741.8,634.9 738.9,632.5 736.2,629.6 733.7,626.5 731.3,623 729.2,619.1 727.3,614.9 725.6,610.5 724.1,605.7 722.9,600.7 721.9,595.5 721.2,590 720.7,584.4 720.5,578.6 720.6,572.7 720.8,566.6 721.4,560.5 722.2,554.3 723.2,548.1 724.5,541.9 726,535.7 727.8,529.5 729.7,523.4 731.9,517.5 734.3,511.6 736.9,506 739.7,500.5 742.6,495.2 745.7,490.1 749,485.3 752.3,480.8 755.8,476.5 759.4,472.6 763.1,469 766.8,465.7 770.6,462.8 774.5,460.3 778.3,458.1 782.1,456.4 786,455 789.8,454.1 793.5,453.5" stroke-width="1.05" />
<polygon points="790.5,492.8 765,508.5 746.3,549.1 745.4,588.1 762.2,605.5 779.8,611.4 763,594 763.9,555 782.6,514.4 808.1,498.7" stroke-width="1.05" fill="#fff" />
<polyline points="808.1,498.7 782.6,514.4 763.9,555 763,594 779.8,611.4" stroke-width="1.05" />
<polyline points="790.5,492.8 808.1,498.7" stroke-width="1.05" />
<polyline points="765,508.5 782.6,514.4" stroke-width="1.05" />
<polyline points="746.3,549.1 763.9,555" stroke-width="1.05" />
<polyline points="745.4,588.1 763,594" stroke-width="1.05" />
<polyline points="762.2,605.5 779.8,611.4" stroke-width="1.05" />
<polygon points="827.4,508.1 829.1,508.8 830.6,509.6 832.1,510.7 833.5,511.9 834.8,513.4 836,515 837.1,516.8 838.1,518.7 839,520.8 839.8,523.1 840.4,525.5 841,528.1 841.4,530.7 841.7,533.5 841.9,536.4 841.9,539.4 841.8,542.4 841.6,545.6 841.3,548.7 840.8,552 840.3,555.2 839.6,558.5 838.8,561.7 837.8,565 836.8,568.3 835.7,571.5 834.4,574.6 833.1,577.7 831.7,580.8 830.2,583.7 828.6,586.5 827,589.3 825.2,591.9 823.4,594.4 821.6,596.8 819.7,599 817.8,601 815.9,602.9 813.9,604.7 811.9,606.2 809.9,607.6 807.9,608.7 806,609.7 804,610.5 802,611.1 800.1,611.4 798.3,611.6 796.5,611.6 794.7,611.3 793,610.9 777.8,605.9 776.1,605.2 774.6,604.4 773.1,603.3 771.7,602.1 770.4,600.6 769.2,599 768.1,597.2 767.1,595.3 766.2,593.2 765.4,590.9 764.8,588.5 764.2,585.9 763.8,583.3 763.5,580.5 763.3,577.6 763.3,574.6 763.4,571.6 763.6,568.4 763.9,565.3 764.4,562 764.9,558.8 765.6,555.5 766.4,552.3 767.4,549 768.4,545.7 769.5,542.5 770.8,539.4 772.1,536.3 773.5,533.2 775,530.3 776.6,527.5 778.2,524.7 780,522.1 781.8,519.6 783.6,517.2 785.5,515 787.4,513 789.3,511.1 791.3,509.3 793.3,507.8 795.3,506.4 797.3,505.3 799.2,504.3 801.2,503.5 803.2,502.9 805.1,502.6 806.9,502.4 808.7,502.4 810.5,502.7 812.2,503.1" stroke-width="1.05" fill="#fff" />
<polyline points="777.8,605.9 775.7,605 773.8,603.9 772,602.4 770.4,600.6 768.9,598.6 767.6,596.3 766.4,593.7 765.4,590.9 764.6,587.9 764,584.6 763.6,581.2 763.3,577.6 763.3,573.9 763.5,570 763.8,566.1 764.4,562 765.1,558 766,553.9 767.1,549.8 768.4,545.7 769.8,541.7 771.4,537.8 773.1,534 775,530.3 777,526.8 779.1,523.4 781.3,520.2 783.6,517.2 785.9,514.5 788.4,512 790.8,509.8 793.3,507.8 795.8,506.1 798.3,504.8 800.7,503.7 803.2,502.9 805.5,502.5 807.8,502.4 810.1,502.6 812.2,503.1" stroke-width="1.05" />
<polyline points="793,610.9 790.9,610 789,608.9 787.2,607.4 785.6,605.6 784.1,603.6 782.8,601.3 781.6,598.7 780.6,595.9 779.8,592.9 779.2,589.6 778.8,586.2 778.5,582.6 778.5,578.9 778.7,575 779,571.1 779.6,567 780.3,563 781.2,558.9 782.3,554.8 783.6,550.7 785,546.7 786.6,542.8 788.3,539 790.2,535.3 792.2,531.8 794.3,528.4 796.5,525.2 798.8,522.2 801.1,519.5 803.6,517 806,514.8 808.5,512.8 811,511.1 813.5,509.8 815.9,508.7 818.4,507.9 820.7,507.5 823,507.4 825.3,507.6 827.4,508.1" stroke-width="1.05" />
<polyline points="812.2,503.1 827.4,508.1 829.5,509 831.4,510.1 833.2,511.6 834.8,513.4 836.3,515.4 837.6,517.7 838.8,520.3 839.8,523.1 840.6,526.1 841.2,529.4 841.6,532.8 841.9,536.4 841.9,540.1 841.7,544 841.4,547.9 840.8,552 840.1,556 839.2,560.1 838.1,564.2 836.8,568.3 835.4,572.3 833.8,576.2 832.1,580 830.2,583.7 828.2,587.2 826.1,590.6 823.9,593.8 821.6,596.8 819.3,599.5 816.8,602 814.4,604.2 811.9,606.2 809.4,607.9 806.9,609.2 804.5,610.3 802,611.1 799.7,611.5 797.4,611.6 795.1,611.4 793,610.9 777.8,605.9" stroke-width="2.6" />
<polyline points="820.2,526.1 822,526.7 823.7,527.5 825.2,528.8 826.6,530.3 827.8,532.2 828.8,534.4 829.6,536.9 830.1,539.6 830.5,542.5 830.6,545.7 830.5,549 830.1,552.3 829.6,555.8 828.8,559.3 827.8,562.9 826.6,566.4 825.2,569.8 823.7,573.1 822,576.2 820.2,579.2 818.2,582 816.2,584.5 814,586.8 811.9,588.7 809.7,590.3 807.5,591.6 805.4,592.6 803.2,593.2 801.2,593.4 799.3,593.3" stroke-width="1.05" />
<polyline points="799.2,593.3 797.4,592.7 795.7,591.9 794.2,590.6 792.8,589.1 791.6,587.2 790.6,585 789.8,582.5 789.3,579.8 788.9,576.9 788.8,573.7 788.9,570.4 789.3,567.1 789.8,563.6 790.6,560.1 791.6,556.5 792.8,553 794.2,549.6 795.7,546.3 797.4,543.2 799.2,540.2 801.2,537.4 803.2,534.9 805.4,532.6 807.5,530.7 809.7,529.1 811.9,527.8 814,526.8 816.2,526.2 818.2,526 820.2,526.1" stroke-width="2.6" />
<polyline points="822.1,551.8 822.1,553.5 821.9,555.2 821.7,556.9 821.4,558.7 820.9,560.4 820.4,562.2 819.9,563.9 819.2,565.7 818.5,567.3 817.7,569 816.8,570.5 815.9,572 814.9,573.4 813.9,574.7 812.9,575.8 811.9,576.9 810.8,577.8 809.7,578.6 808.6,579.2 807.5,579.7 806.5,580.1 805.5,580.3 804.5,580.3 803.5,580.2 802.6,579.9 801.7,579.5 800.9,578.9 800.2,578.2 799.5,577.4 799,576.4 798.5,575.3 798,574 797.7,572.7 797.5,571.3 797.3,569.8 797.3,568.2 797.3,566.5 797.5,564.8 797.7,563.1 798,561.3 798.5,559.6 799,557.8 799.5,556.1 800.2,554.3 800.9,552.7 801.7,551 802.6,549.5 803.5,548 804.5,546.6 805.5,545.3 806.5,544.2 807.5,543.1 808.6,542.2 809.7,541.4 810.8,540.8 811.9,540.3 812.9,539.9 813.9,539.7 814.9,539.7 815.9,539.8 816.8,540.1 817.7,540.5 818.5,541.1 819.2,541.8 819.9,542.6 820.4,543.6 820.9,544.7 821.4,546 821.7,547.3 821.9,548.7 822.1,550.2 822.1,551.8" stroke-width="1.05" />
<polyline points="803.9,537 814.3,541.3" stroke-width="1.05" />
<polyline points="791.8,576.8 802.2,580.3" stroke-width="1.05" />
<polyline points="814,548.1 814.7,548.6 815.2,549.2 815.7,549.9 816.1,550.8 816.4,551.8 816.7,552.9 816.8,554 816.8,555.2 816.7,556.5 816.5,557.9 816.3,559.2 815.9,560.6 815.4,561.9 814.9,563.2 814.3,564.4 813.6,565.6 812.9,566.8 812.1,567.8 811.3,568.7 810.4,569.5" stroke-width="1.05" />
<polyline points="810.4,569.5 809.4,570.3 808.4,570.8 807.4,571.2 806.4,571.4 805.4,571.3 804.6,571.1 803.8,570.6 803.1,570 802.5,569.1 802,568.1 801.7,566.9 801.5,565.6 801.4,564.2 801.5,562.7 801.7,561.1 802,559.6 802.5,558 803,556.4 803.7,554.9 804.5,553.5 805.4,552.2 806.3,551 807.3,549.9 808.3,549.1 809.3,548.4 810.3,547.9 811.4,547.7 812.3,547.6 813.2,547.8 814,548.1" stroke-width="2.6" />
</g>
<g id="han4">
<polygon points="923.7,493.3 908,497.6 888.5,511.2 869,538.5 855.4,569.8 848.5,604.9 846.6,624.4 836.8,630.2 838.8,643.9 854.4,650.7 872.9,642 883.7,633.2 900.2,639 937,699.5 940.6,699.1 944.3,698.4 948,697.3 951.8,695.7 955.6,693.8 959.4,691.5 963.3,688.9 967.1,685.9 970.8,682.5 974.6,678.8 978.2,674.8 981.8,670.5 985.3,666 988.6,661.1 991.9,656.1 995,650.8 997.9,645.3 1000.7,639.7 1003.3,633.9 1005.7,628 1008,621.9 1010,615.9 1011.7,609.7 1013.3,603.6 1014.6,597.4 1015.7,591.3 1016.6,585.3 1017.2,579.3 1017.6,573.5 1017.7,567.8 1017.5,562.2 1017.2,556.8 1016.5,551.7 1015.6,546.7 1014.5,542 1013.2,537.6 1011.6,533.5 1009.8,529.7 1007.7,526.2 1005.5,523 1003.1,520.2 1000.4,517.7 997.6,515.7 994.7,514 991.5,512.7 988.3,511.7 984.9,511.2 981.4,511.1 977.8,511.4 974.2,512.1" stroke-width="0.01" fill="#fff" stroke="none"/>
<path d="M992,512.2 L931.5,495.2 C930.2,494.9 927.6,492.9 923.7,493.3 C919.8,493.7 913.9,494.6 908,497.6 C902.1,500.6 895,504.4 888.5,511.2 C882,518 874.5,528.7 869,538.5 C863.5,548.3 858.8,558.7 855.4,569.8 C852,580.9 850,595.8 848.5,604.9 C847,614 846.9,621.1 846.6,624.4 L836.8,630.2 L838.8,643.9 L830,649.8" stroke-width="2.6" fill="none" />
<polyline points="977.1,511.5 980.7,511.1 984.1,511.2 987.5,511.6 990.7,512.4 993.8,513.6 996.8,515.1 999.6,517.1 1002.2,519.4 1004.7,522 1006.9,525 1009,528.3 1010.9,532 1012.5,535.9 1014,540.1 1015.2,544.6 1016.1,549.4 1016.9,554.4 1017.4,559.6 1017.6,565 1017.7,570.5 1017.4,576.2 1017,582 1016.3,587.9 1015.3,593.9 1014.1,599.9 1012.7,606 1011.1,612 1009.3,618 1007.2,624 1005,629.9 1002.5,635.7 999.9,641.3 997.1,646.8 994.2,652.2 991.1,657.3 987.9,662.3 984.6,667 981.1,671.4 977.6,675.6 974,679.4 970.3,683 966.6,686.3 962.8,689.2 959.1,691.8 955.3,694 951.5,695.9 947.8,697.3 944.1,698.4 940.5,699.1 937,699.5" stroke-width="2.6" />
<polyline points="937,699.5 933.7,699.4 930.5,699 927.4,698.3 924.4,697.2 921.6,695.7 918.9,693.9 916.3,691.8 913.9,689.3 911.7,686.5 909.6,683.5 907.8,680.1 906.1,676.4 904.6,672.5 903.4,668.3 902.3,663.9 901.5,659.3 900.9,654.4 900.5,649.4 900.3,644.2 900.3,638.9 900.6,633.4 901.1,627.8 901.8,622.2 902.7,616.5 903.8,610.7 905.2,604.9 906.7,599.1 908.4,593.4 910.4,587.6 912.5,582 914.8,576.4 917.2,571 919.8,565.7 922.6,560.5 925.5,555.5 928.5,550.7 931.6,546.1 934.9,541.7 938.2,537.5 941.6,533.6 945.1,530 948.6,526.7 952.2,523.7 955.8,520.9 959.4,518.5 963,516.4 966.6,514.7 970.1,513.3 973.7,512.2 977.1,511.5" stroke-width="1.05" />
<polyline points="836.8,630.2 844.6,634.1" stroke-width="1.05" />
<polyline points="838.8,643.9 854.4,650.7 893.4,571.7" stroke-width="1.05" />
<polyline points="839.8,642 881.7,567.8" stroke-width="1.05" />
<path d="M893.4,571.7 C887.5,590 884.5,612 885.6,632.2 L883.7,633.2" stroke-width="1.05" fill="none" />
<polygon points="872.9,642 883.7,633.2 900.2,639 888.5,645.9" stroke-width="1.05" fill="#fff" />
<polygon points="872.9,642 888.5,645.9 879.8,704.4" stroke-width="1.05" fill="#fff" />
<polyline points="854.4,650.7 872.9,642" stroke-width="1.05" />
<polyline points="900.2,639 904.5,636" stroke-width="1.05" />
<path d="M901,638.5 C900.9,640.4 900.4,646 900.3,650 C900.2,654 900,658.3 900.6,662.6 C901.2,666.9 902.5,671.8 904,676 C905.5,680.2 907.5,684.8 909.5,687.7 C911.5,690.6 913.6,692.1 916,693.5 C918.4,694.9 922.5,695.8 923.8,696.2" stroke-width="1.05" fill="none" />
<polygon points="1012.5,571.1 1012.3,578 1011.7,585.1 1010.7,592.3 1009.3,599.6 1007.5,607 1005.3,614.3 1002.8,621.6 999.9,628.7 996.8,635.7 993.3,642.4 989.6,648.8 985.6,654.9 981.5,660.6 977.2,665.9 972.7,670.7 968.1,675 963.5,678.7 958.8,681.9 954.1,684.6 949.5,686.6 944.9,687.9 940.4,688.7 936.1,688.8 931.9,688.2 928,687 924.3,685.2 920.8,682.8 917.7,679.8 914.8,676.2 912.3,672 910.1,667.4 908.3,662.2 906.9,656.7 905.9,650.7 905.3,644.4 905.1,637.7 905.3,630.8 905.9,623.7 906.9,616.5 908.3,609.2 910.1,601.8 912.3,594.5 914.8,587.2 917.7,580.1 920.8,573.1 924.3,566.4 928,560 931.9,553.9 936.1,548.2 940.4,542.9 944.9,538.1 949.5,533.8 954.1,530.1 958.8,526.9 963.5,524.2 968.1,522.2 972.7,520.9 977.2,520.1 981.5,520 985.6,520.6 989.6,521.8 993.3,523.6 996.8,526 999.9,529 1002.8,532.6 1005.3,536.8 1007.5,541.4 1009.3,546.6 1010.7,552.1 1011.7,558.1 1012.3,564.4" stroke-width="1.05" fill="#fff" />
<polyline points="1009.8,572.4 1009.6,579 1009,585.7 1008.1,592.7 1006.7,599.6 1005,606.7 1002.9,613.7 1000.5,620.6 997.8,627.4 994.8,634.1 991.5,640.5 988,646.6 984.2,652.4 980.2,657.9 976.1,662.9 971.9,667.5 967.5,671.6 963.1,675.2 958.6,678.3 954.1,680.8 949.7,682.7 945.3,684 941.1,684.7 937,684.8 933,684.2 929.2,683.1 925.7,681.4 922.4,679.1 919.4,676.2 916.7,672.7 914.3,668.8 912.2,664.3 910.5,659.4 909.1,654.1 908.2,648.4 907.6,642.3 907.4,636 907.6,629.4 908.2,622.7 909.1,615.7 910.5,608.8 912.2,601.7 914.3,594.7 916.7,587.8 919.4,581 922.4,574.3 925.7,567.9 929.2,561.8 933,556 937,550.5 941.1,545.5 945.3,540.9 949.7,536.8 954.1,533.2 958.6,530.1 963.1,527.6 967.5,525.7 971.9,524.4 976.1,523.7 980.2,523.6 984.2,524.2 988,525.3 991.5,527 994.8,529.3 997.8,532.2 1000.5,535.7 1002.9,539.6 1005,544.1 1006.7,549 1008.1,554.3 1009,560 1009.6,566.1 1009.8,572.4" stroke-width="1.05" />
<polyline points="968.6,531.4 972.2,532.3 975.5,533.8 978.7,535.9 981.5,538.5 984.1,541.7 986.4,545.4 988.3,549.7 989.9,554.4 991.1,559.5 991.9,565 992.4,570.8 992.5,576.9 992.2,583.2 991.5,589.7 990.4,596.4 989,603 987.2,609.7 985.1,616.4 982.6,622.9 979.8,629.3 976.8,635.4 973.5,641.3 970,646.8 966.3,652 962.5,656.8 958.5,661.1 954.4,664.9 950.2,668.2 946.1,670.9 941.9,673.1 937.8,674.7 933.8,675.6 929.9,676 926.1,675.7 922.5,674.8 919.1,673.3 916,671.3 913.2,668.6 910.6,665.4 908.3,661.6" stroke-width="1.05" />
<polyline points="976.6,622.1 974.9,625.8 973.2,629.5 971.3,633.1 969.4,636.6 967.4,639.9 965.2,643.2 963.1,646.3 960.8,649.2 958.5,652 956.2,654.6 953.8,657.1 951.4,659.3 948.9,661.4 946.5,663.3 944,665 941.5,666.4 939.1,667.7 936.6,668.7 934.2,669.5 931.8,670 929.5,670.4 927.2,670.5 924.9,670.4 922.8,670 920.6,669.5 918.6,668.7 916.7,667.6 914.8,666.4 913.1,664.9 911.4,663.2" stroke-width="1.05" />
<polyline points="944,540.4 946.5,541.1 948.8,542.2 951,543.6 953,545.3 954.9,547.3 956.6,549.7 958.1,552.3 959.4,555.2 960.6,558.4 961.5,561.8 962.2,565.5 962.7,569.3 962.9,573.3 963,577.5 962.8,581.8 962.4,586.2 961.8,590.7 961,595.3 959.9,599.9 958.7,604.4 957.3,609 955.6,613.5 953.8,617.9 951.9,622.2" stroke-width="1.05" />
<path d="M936.3,553.2 C926,565 914,600 910,632.5" stroke-width="2.6" fill="none" />
<polyline points="936.3,553.2 936.3,592.2 915.9,631.2 910,633.2" stroke-width="2.6" />
<polyline points="936.3,553.2 941.2,548.3 947.1,551.2 947.1,593.2 936.3,592.2" stroke-width="1.05" />
<polyline points="915.9,631.2 926.6,634.1 947.1,597" stroke-width="1.05" />
<polyline points="926.6,634.1 916,640.5 904.5,636" stroke-width="1.05" />
</g>
<g id="wash3">
<polygon points="1085.8,574.4 1087.9,575 1089.9,575.9 1091.9,577 1093.7,578.4 1095.4,580 1097,581.8 1098.5,583.9 1099.9,586.2 1101.2,588.6 1102.3,591.3 1103.3,594.2 1104.1,597.2 1104.8,600.5 1105.4,603.8 1105.8,607.3 1106,610.9 1106.1,614.7 1106,618.5 1105.8,622.4 1105.5,626.4 1105,630.4 1104.3,634.4 1103.5,638.5 1102.5,642.6 1101.4,646.6 1100.2,650.7 1098.9,654.6 1097.4,658.5 1095.8,662.4 1094.1,666.1 1092.3,669.8 1090.4,673.3 1088.4,676.6 1086.3,679.9 1084.1,682.9 1081.9,685.8 1079.6,688.5 1077.3,691 1074.9,693.3 1072.5,695.4 1070.1,697.3 1067.7,698.9 1065.2,700.3 1062.8,701.4 1060.4,702.3 1058,703 1055.7,703.4 1053.4,703.5 1051.2,703.4 1049,703 1038.7,700.6 1036.6,700 1034.6,699.1 1032.6,698 1030.8,696.6 1029.1,695 1027.5,693.2 1026,691.1 1024.6,688.8 1023.3,686.4 1022.2,683.7 1021.2,680.8 1020.4,677.8 1019.7,674.5 1019.1,671.2 1018.7,667.7 1018.5,664.1 1018.4,660.3 1018.5,656.5 1018.7,652.6 1019,648.6 1019.5,644.6 1020.2,640.6 1021,636.5 1022,632.4 1023.1,628.4 1024.3,624.3 1025.6,620.4 1027.1,616.5 1028.7,612.6 1030.4,608.9 1032.2,605.2 1034.1,601.7 1036.1,598.4 1038.2,595.1 1040.4,592.1 1042.6,589.2 1044.9,586.5 1047.2,584 1049.6,581.7 1052,579.6 1054.4,577.7 1056.8,576.1 1059.3,574.7 1061.7,573.6 1064.1,572.7 1066.5,572 1068.8,571.6 1071.1,571.5 1073.3,571.6 1075.5,572" stroke-width="2.6" fill="#fff" />
<polyline points="1049,703 1046.4,702.2 1043.9,701 1041.6,699.4 1039.4,697.4 1037.4,695.1 1035.5,692.4 1033.9,689.4 1032.5,686.1 1031.3,682.5 1030.3,678.6 1029.6,674.4 1029,670.1 1028.8,665.5 1028.7,660.8 1028.9,656 1029.3,651 1030,646 1030.9,640.9 1032,635.8 1033.4,630.8 1034.9,625.7 1036.7,620.8 1038.6,616 1040.7,611.3 1043,606.8 1045.4,602.4 1048,598.3 1050.7,594.5 1053.5,590.9 1056.3,587.6 1059.3,584.6 1062.3,582 1065.3,579.7 1068.3,577.8 1071.4,576.2 1074.4,575.1 1077.3,574.3 1080.3,573.9 1083.1,574 1085.8,574.4" stroke-width="1.05" />
<polyline points="1071.3,627.3 1072,627.7 1072.6,628.3 1073.2,629 1073.6,629.9 1074,630.9 1074.3,632 1074.4,633.3 1074.5,634.6 1074.5,635.9 1074.3,637.4 1074.1,638.8 1073.7,640.3 1073.3,641.7 1072.8,643.1 1072.2,644.4 1071.5,645.7 1070.8,646.9 1070,648 1069.2,648.9 1068.3,649.7" stroke-width="1.05" />
<polyline points="1068.3,649.7 1067.3,650.5 1066.3,651 1065.4,651.4 1064.4,651.5 1063.5,651.4 1062.7,651.1 1061.9,650.7 1061.3,650 1060.7,649.1 1060.2,648.1 1059.8,646.9 1059.6,645.6 1059.5,644.1 1059.5,642.6 1059.7,641 1060,639.4 1060.3,637.8 1060.9,636.2 1061.5,634.7 1062.2,633.3 1063,631.9 1063.8,630.7 1064.7,629.6 1065.7,628.7 1066.7,627.9 1067.7,627.4 1068.6,627 1069.6,626.9 1070.5,627 1071.3,627.3" stroke-width="2.6" />
</g>
<g id="screw2">
<polygon points="1125.1,657.6 1141.2,653 1226.2,681.9 1233,675.5 1226,711 1217,699.6 1136.6,673.2" stroke-width="2.6" fill="#fff" />
<path d="M1141.2,653 Q1135.5,661.6 1136.6,673.2" stroke-width="0.8400000000000001" fill="none" />
<path d="M1146.3,654.7 Q1140.5,663.3 1141.5,674.8" stroke-width="0.8400000000000001" fill="none" />
<path d="M1151.4,656.5 Q1145.5,665 1146.4,676.4" stroke-width="0.8400000000000001" fill="none" />
<path d="M1156.5,658.2 Q1150.5,666.6 1151.3,678" stroke-width="0.8400000000000001" fill="none" />
<path d="M1161.7,660 Q1155.5,668.3 1156.2,679.7" stroke-width="0.8400000000000001" fill="none" />
<path d="M1166.8,661.7 Q1160.5,670 1161.1,681.3" stroke-width="0.8400000000000001" fill="none" />
<path d="M1171.9,663.4 Q1165.5,671.6 1166,682.9" stroke-width="0.8400000000000001" fill="none" />
<path d="M1177,665.2 Q1170.5,673.3 1170.9,684.5" stroke-width="0.8400000000000001" fill="none" />
<path d="M1182.1,666.9 Q1175.5,675 1175.8,686.1" stroke-width="0.8400000000000001" fill="none" />
<path d="M1187.2,668.6 Q1180.6,676.7 1180.7,687.7" stroke-width="0.8400000000000001" fill="none" />
<path d="M1192.3,670.4 Q1185.6,678.4 1185.6,689.3" stroke-width="0.8400000000000001" fill="none" />
<path d="M1197.4,672.1 Q1190.6,680 1190.5,690.9" stroke-width="0.8400000000000001" fill="none" />
<path d="M1202.5,673.8 Q1195.6,681.7 1195.4,692.5" stroke-width="0.8400000000000001" fill="none" />
<path d="M1207.7,675.6 Q1200.6,683.4 1200.3,694.2" stroke-width="0.8400000000000001" fill="none" />
<path d="M1212.8,677.3 Q1205.6,685 1205.2,695.8" stroke-width="0.8400000000000001" fill="none" />
<path d="M1217.9,679.1 Q1210.6,686.7 1210.1,697.4" stroke-width="0.8400000000000001" fill="none" />
<path d="M1223,680.8 Q1215.6,688.4 1215,699" stroke-width="0.8400000000000001" fill="none" />
<polygon points="1245,688.2 1245,689.8 1244.8,691.4 1244.6,693.1 1244.3,694.7 1243.9,696.3 1243.4,697.9 1242.9,699.5 1242.3,701 1241.6,702.5 1240.9,703.9 1240.1,705.2 1239.2,706.5 1238.3,707.6 1237.4,708.6 1236.4,709.5 1235.4,710.3 1234.4,710.9 1233.4,711.5 1232.4,711.9 1231.4,712.1 1230.4,712.2 1229.4,712.2 1228.5,712 1227.6,711.6 1226.7,711.2 1225.9,710.6 1225.2,709.8 1224.5,709 1223.9,708 1223.4,706.9 1222.9,705.7 1222.5,704.5 1222.2,703.1 1222,701.6 1221.8,700.1 1221.8,698.6 1221.8,697 1222,695.4 1222.2,693.7 1222.5,692.1 1222.9,690.5 1223.4,688.9 1223.9,687.3 1224.5,685.8 1225.2,684.3 1225.9,682.9 1226.7,681.6 1227.6,680.3 1228.5,679.2 1229.4,678.2 1230.4,677.3 1231.4,676.5 1232.4,675.9 1233.4,675.3 1234.4,674.9 1235.4,674.7 1236.4,674.6 1237.4,674.6 1238.3,674.8 1239.2,675.2 1240.1,675.6 1240.9,676.2 1241.6,677 1242.3,677.8 1242.9,678.8 1243.4,679.9 1243.9,681.1 1244.3,682.3 1244.6,683.7 1244.8,685.2 1245,686.7" stroke-width="2.8600000000000003" fill="#fff" />
<polyline points="1236.2,683.5 1230.6,704.5" stroke-width="0.8400000000000001" />
<polyline points="1237.6,684.2 1232.2,705" stroke-width="0.8400000000000001" />
<polyline points="1227,694.6 1240,691.6" stroke-width="0.8400000000000001" />
<polyline points="1227.3,696.2 1240.3,693.4" stroke-width="0.8400000000000001" />
</g>
<g id="cap1">
<polygon points="1341.7,637.4 1344.4,638.3 1347.1,639.6 1349.6,641.3 1352,643.2 1354.2,645.5 1356.3,648.1 1358.2,650.9 1360,654.1 1361.6,657.5 1363,661.1 1364.2,665 1365.2,669.2 1366.1,673.5 1366.7,678 1367.1,682.8 1367.4,687.6 1367.4,692.6 1367.2,697.8 1366.8,703 1366.2,708.3 1365.5,713.6 1364.5,719 1363.3,724.4 1361.9,729.8 1360.4,735.1 1358.7,740.4 1356.8,745.7 1354.7,750.8 1352.5,755.9 1350.2,760.8 1347.7,765.5 1345.1,770.1 1342.4,774.5 1339.5,778.6 1336.6,782.6 1333.6,786.3 1330.5,789.8 1327.4,793 1324.2,795.9 1321,798.6 1317.7,800.9 1314.5,802.9 1311.2,804.6 1308,806 1304.8,807 1301.7,807.8 1298.6,808.1 1295.5,808.2 1292.6,807.9 1289.7,807.2 1269.5,801.4 1266.8,800.5 1264.1,799.2 1261.6,797.5 1259.2,795.6 1257,793.3 1254.9,790.7 1253,787.9 1251.2,784.7 1249.6,781.3 1248.2,777.7 1247,773.8 1246,769.6 1245.1,765.3 1244.5,760.8 1244.1,756 1243.8,751.2 1243.8,746.2 1244,741 1244.4,735.8 1245,730.5 1245.7,725.2 1246.7,719.8 1247.9,714.4 1249.3,709 1250.8,703.7 1252.5,698.4 1254.4,693.1 1256.5,688 1258.7,682.9 1261,678 1263.5,673.3 1266.1,668.7 1268.8,664.3 1271.7,660.2 1274.6,656.2 1277.6,652.5 1280.7,649 1283.8,645.8 1287,642.9 1290.2,640.2 1293.5,637.9 1296.7,635.9 1300,634.2 1303.2,632.8 1306.4,631.8 1309.5,631 1312.6,630.7 1315.7,630.6 1318.6,630.9 1321.5,631.6" stroke-width="2.6" fill="#fff" />
<polyline points="1289.7,807.2 1287,806.3 1284.3,805 1281.8,803.3 1279.4,801.4 1277.2,799.1 1275.1,796.5 1273.2,793.7 1271.4,790.5 1269.8,787.1 1268.4,783.5 1267.2,779.6 1266.2,775.4 1265.3,771.1 1264.7,766.6 1264.3,761.8 1264,757 1264,752 1264.2,746.8 1264.6,741.6 1265.2,736.3 1265.9,731 1266.9,725.6 1268.1,720.2 1269.5,714.8 1271,709.5 1272.7,704.2 1274.6,698.9 1276.7,693.8 1278.9,688.7 1281.2,683.8 1283.7,679.1 1286.3,674.5 1289,670.1 1291.9,666 1294.8,662 1297.8,658.3 1300.9,654.8 1304,651.6 1307.2,648.7 1310.4,646 1313.7,643.7 1316.9,641.7 1320.2,640 1323.4,638.6 1326.6,637.6 1329.7,636.8 1332.8,636.5 1335.9,636.4 1338.8,636.7 1341.7,637.4" stroke-width="1.05" />
</g>
</g>
<g id="ann">
<polyline points="408.3,642 412.3,650.2" stroke-width="3.6" stroke="#fff"/>
<polyline points="345.8,410.6 351.2,412.2" stroke-width="4" stroke="#fff"/>
<polyline points="1025.5,624.2 1036.5,627.6" stroke-width="3.6" stroke="#fff"/>
<polyline points="635.2,505.2 642.4,507.4" stroke-width="3.2" stroke="#fff"/>
<polyline points="574.8,542.1 582,544.3" stroke-width="3.2" stroke="#fff"/>
<polyline points="492.4,460.1 713.7,529.9" stroke-width="1.05" stroke-dasharray="28 9 7 9 46 9 7 9 46 9 7 9 30 0"/>
<polyline points="492.4,516.1 701.8,582.2" stroke-width="1.05" stroke-dasharray="28 9 7 9 46 9 7 9 46 9 7 9 30 0"/>
<polyline points="809.5,560.3 853,574" stroke-width="1.05" />
<polyline points="921.7,593.2 951,602" stroke-width="1.05" />
<polyline points="968.5,607.4 978.3,610.3" stroke-width="1.05" />
<polyline points="995.9,615.6 1025.1,624.4" stroke-width="1.05" />
<polyline points="1066.6,639.2 1090.7,646.8" stroke-width="1.05" />
<polyline points="1094.1,647.9 1098.7,649.3" stroke-width="1.05" />
<polyline points="1102.2,650.2 1125.1,657.6" stroke-width="1.05" />
<polyline points="335.9,407.9 344.6,409.9" stroke-width="1.05" />
<polyline points="350.9,413.6 409.6,429.9" stroke-width="1.05" />
<circle cx="1258.7" cy="200" r="137.9" stroke-width="1.5" fill="#fff"/>
<polygon points="1241.8,90.7 1251.7,90.7 1248.8,291.8 1225.7,291.8" stroke-width="2.4" fill="#fff" />
<polygon points="1251.5,136.3 1292.5,136.8 1291.2,247.6 1249.8,246.8" stroke-width="2.4" fill="#fff" />
<polyline points="1272.2,136.8 1270.7,247" stroke-width="0.8" />
<polyline points="1251.5,168.3 1271.7,168.3" stroke-width="0.8" />
<polyline points="1250.5,215.1 1271,215.1" stroke-width="0.8" />
<polyline points="1227.5,251.3 1215.8,251.3 1209.3,257.2 1209.3,268.9 1215.8,274.9 1226.7,274.9" stroke-width="2.4" />
<polyline points="1217.1,251.3 1217.1,274.9" stroke-width="0.8" />
<polyline points="1119.8,201 826.3,463.2" stroke-width="1.3" />
<polyline points="1046.5,370.8 836.2,487" stroke-width="1.3" />
<polyline points="1147.5,397.5 1001,513.2" stroke-width="1.3" />
<polyline points="1241,430 1104.5,585.5" stroke-width="1.3" />
<polyline points="1353.5,464 1209.4,667.4" stroke-width="1.3" />
<polyline points="1457,508.5 1357,639.2" stroke-width="1.3" />
<polyline points="318.6,456.5 434.5,696.1" stroke-width="1.3" />
<text x="1062.5" y="368.3" font-size="30.5" font-weight="bold" font-style="normal" text-anchor="middle" fill="#000" stroke="none" textLength="17.2" lengthAdjust="spacingAndGlyphs" >5</text>
<text x="1157.7" y="395.8" font-size="30.5" font-weight="bold" font-style="normal" text-anchor="middle" fill="#000" stroke="none" textLength="17.2" lengthAdjust="spacingAndGlyphs" >4</text>
<text x="1253.5" y="426.3" font-size="30.5" font-weight="bold" font-style="normal" text-anchor="middle" fill="#000" stroke="none" textLength="17.2" lengthAdjust="spacingAndGlyphs" >3</text>
<text x="1362.5" y="459" font-size="30.5" font-weight="bold" font-style="normal" text-anchor="middle" fill="#000" stroke="none" textLength="17.2" lengthAdjust="spacingAndGlyphs" >2</text>
<text x="1470.3" y="502.3" font-size="30.5" font-weight="bold" font-style="normal" text-anchor="middle" fill="#000" stroke="none" textLength="17.2" lengthAdjust="spacingAndGlyphs" >1</text>
<text x="439.5" y="720.5" font-size="30.5" font-weight="bold" font-style="normal" text-anchor="middle" fill="#000" stroke="none" textLength="17.2" lengthAdjust="spacingAndGlyphs" >6</text>
</g>
</svg></body></html>
